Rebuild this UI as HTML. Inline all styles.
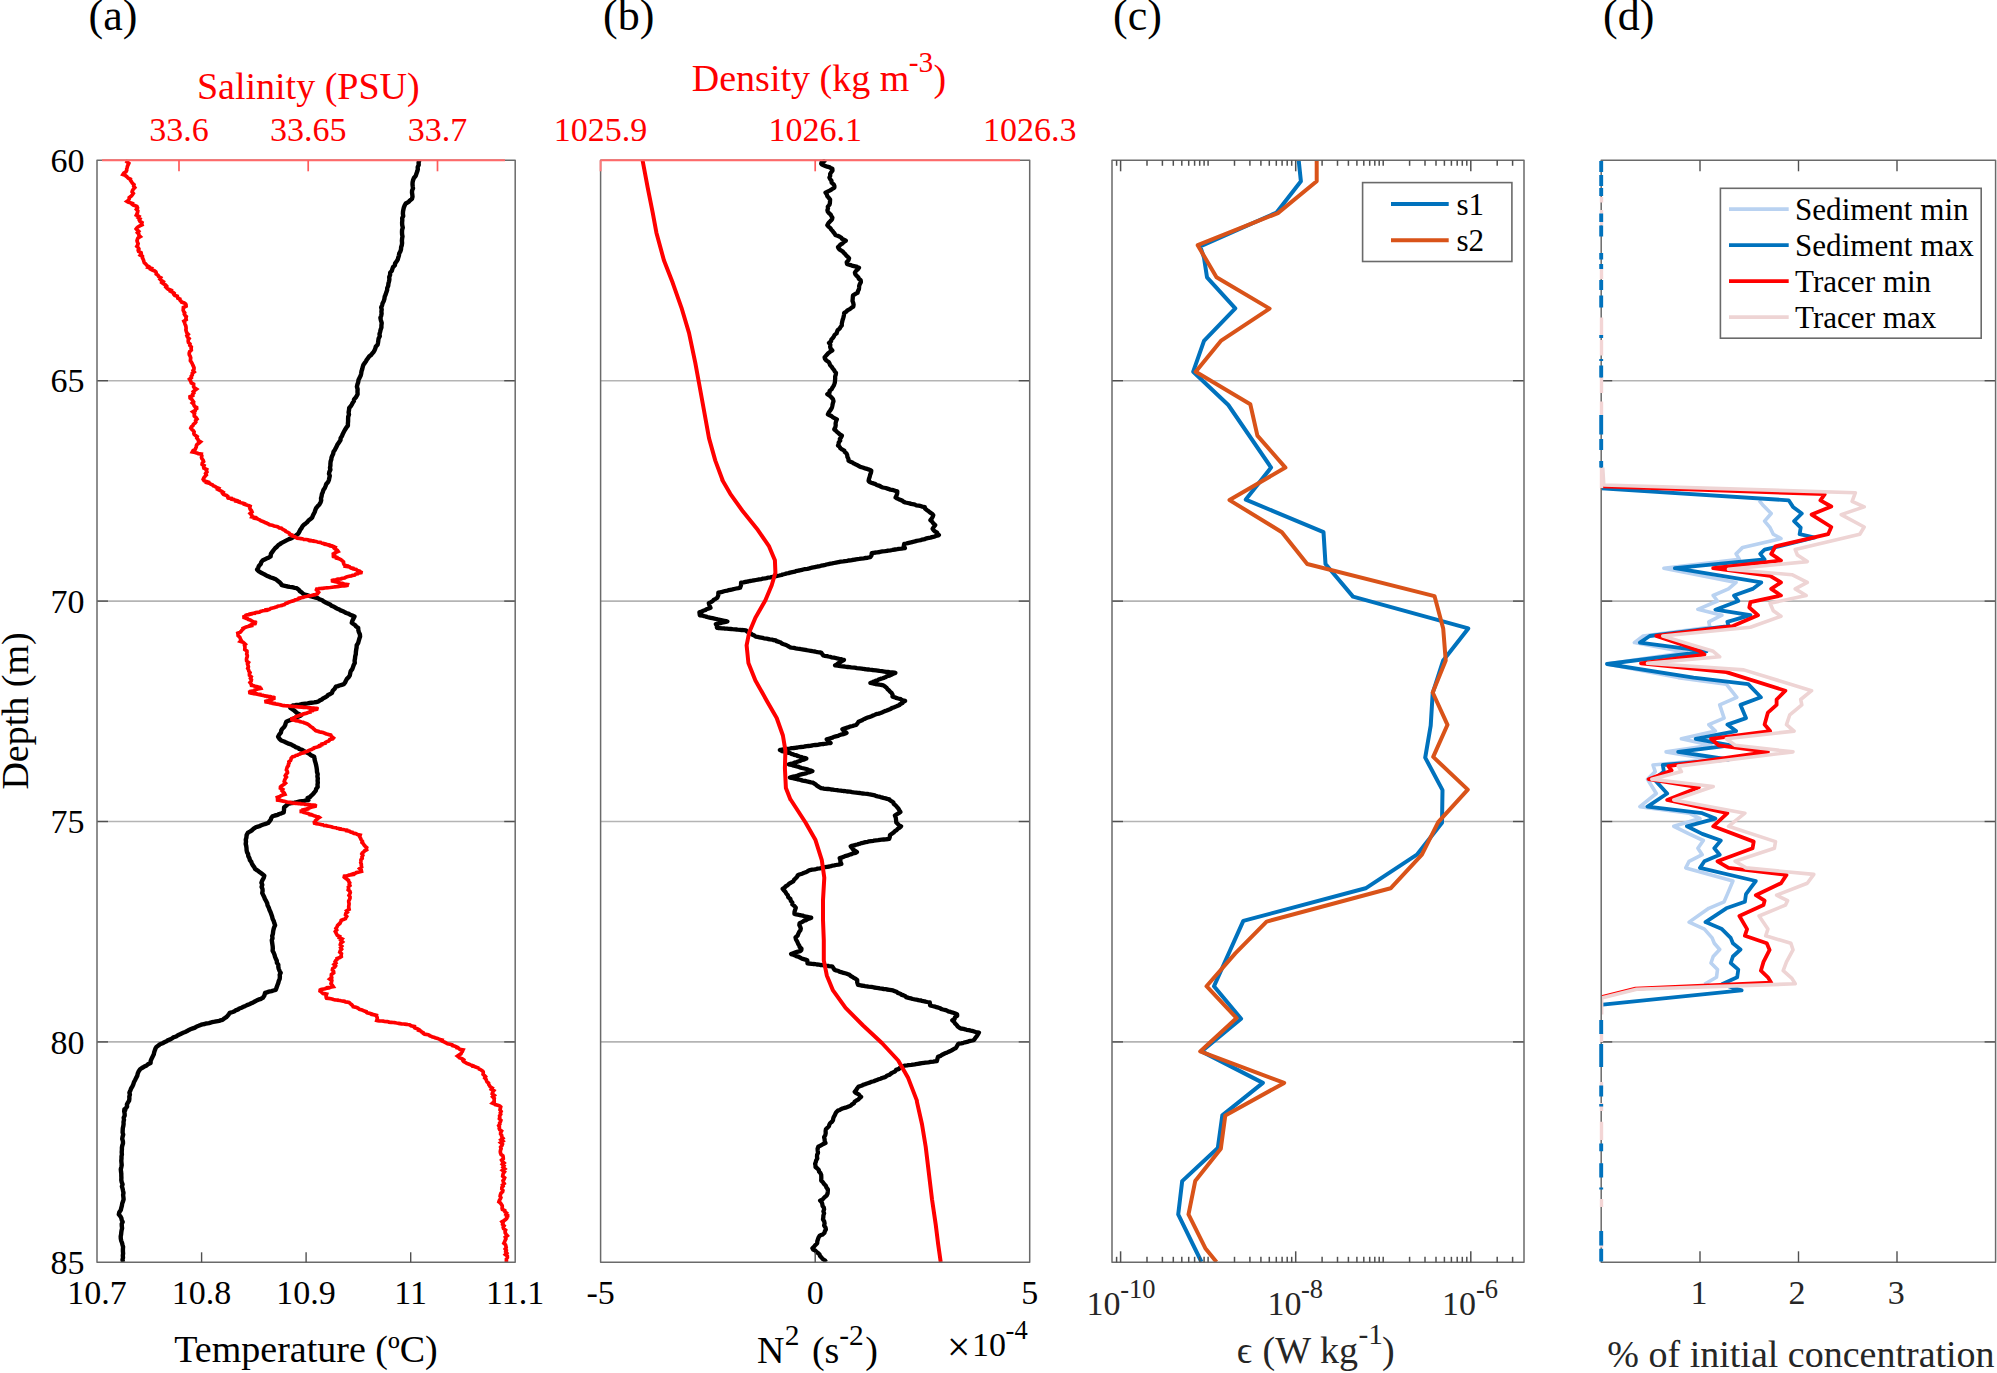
<!DOCTYPE html>
<html lang="en"><head><meta charset="utf-8"><title>Figure</title>
<style>html,body{margin:0;padding:0;background:#fff}svg{display:block}</style></head>
<body>
<svg width="1997" height="1373" viewBox="0 0 1997 1373" font-family="'Liberation Serif', serif">
<rect width="1997" height="1373" fill="#fff"/>
<line x1="97.0" y1="380.7" x2="515.2" y2="380.7" stroke="#b4b4b4" stroke-width="1.6"/>
<line x1="97.0" y1="380.7" x2="108.0" y2="380.7" stroke="#505050" stroke-width="1.4"/>
<line x1="504.20000000000005" y1="380.7" x2="515.2" y2="380.7" stroke="#505050" stroke-width="1.4"/>
<line x1="97.0" y1="601.1" x2="515.2" y2="601.1" stroke="#b4b4b4" stroke-width="1.6"/>
<line x1="97.0" y1="601.1" x2="108.0" y2="601.1" stroke="#505050" stroke-width="1.4"/>
<line x1="504.20000000000005" y1="601.1" x2="515.2" y2="601.1" stroke="#505050" stroke-width="1.4"/>
<line x1="97.0" y1="821.5" x2="515.2" y2="821.5" stroke="#b4b4b4" stroke-width="1.6"/>
<line x1="97.0" y1="821.5" x2="108.0" y2="821.5" stroke="#505050" stroke-width="1.4"/>
<line x1="504.20000000000005" y1="821.5" x2="515.2" y2="821.5" stroke="#505050" stroke-width="1.4"/>
<line x1="97.0" y1="1041.9" x2="515.2" y2="1041.9" stroke="#b4b4b4" stroke-width="1.6"/>
<line x1="97.0" y1="1041.9" x2="108.0" y2="1041.9" stroke="#505050" stroke-width="1.4"/>
<line x1="504.20000000000005" y1="1041.9" x2="515.2" y2="1041.9" stroke="#505050" stroke-width="1.4"/>
<line x1="600.6" y1="380.7" x2="1029.7" y2="380.7" stroke="#b4b4b4" stroke-width="1.6"/>
<line x1="1018.7" y1="380.7" x2="1029.7" y2="380.7" stroke="#505050" stroke-width="1.4"/>
<line x1="600.6" y1="601.1" x2="1029.7" y2="601.1" stroke="#b4b4b4" stroke-width="1.6"/>
<line x1="1018.7" y1="601.1" x2="1029.7" y2="601.1" stroke="#505050" stroke-width="1.4"/>
<line x1="600.6" y1="821.5" x2="1029.7" y2="821.5" stroke="#b4b4b4" stroke-width="1.6"/>
<line x1="1018.7" y1="821.5" x2="1029.7" y2="821.5" stroke="#505050" stroke-width="1.4"/>
<line x1="600.6" y1="1041.9" x2="1029.7" y2="1041.9" stroke="#b4b4b4" stroke-width="1.6"/>
<line x1="1018.7" y1="1041.9" x2="1029.7" y2="1041.9" stroke="#505050" stroke-width="1.4"/>
<line x1="1112.0" y1="380.7" x2="1524.0" y2="380.7" stroke="#b4b4b4" stroke-width="1.6"/>
<line x1="1112.0" y1="380.7" x2="1123.0" y2="380.7" stroke="#505050" stroke-width="1.4"/>
<line x1="1513.0" y1="380.7" x2="1524.0" y2="380.7" stroke="#505050" stroke-width="1.4"/>
<line x1="1112.0" y1="601.1" x2="1524.0" y2="601.1" stroke="#b4b4b4" stroke-width="1.6"/>
<line x1="1112.0" y1="601.1" x2="1123.0" y2="601.1" stroke="#505050" stroke-width="1.4"/>
<line x1="1513.0" y1="601.1" x2="1524.0" y2="601.1" stroke="#505050" stroke-width="1.4"/>
<line x1="1112.0" y1="821.5" x2="1524.0" y2="821.5" stroke="#b4b4b4" stroke-width="1.6"/>
<line x1="1112.0" y1="821.5" x2="1123.0" y2="821.5" stroke="#505050" stroke-width="1.4"/>
<line x1="1513.0" y1="821.5" x2="1524.0" y2="821.5" stroke="#505050" stroke-width="1.4"/>
<line x1="1112.0" y1="1041.9" x2="1524.0" y2="1041.9" stroke="#b4b4b4" stroke-width="1.6"/>
<line x1="1112.0" y1="1041.9" x2="1123.0" y2="1041.9" stroke="#505050" stroke-width="1.4"/>
<line x1="1513.0" y1="1041.9" x2="1524.0" y2="1041.9" stroke="#505050" stroke-width="1.4"/>
<line x1="1601.2" y1="380.7" x2="1995.6" y2="380.7" stroke="#b4b4b4" stroke-width="1.6"/>
<line x1="1601.2" y1="380.7" x2="1612.2" y2="380.7" stroke="#505050" stroke-width="1.4"/>
<line x1="1984.6" y1="380.7" x2="1995.6" y2="380.7" stroke="#505050" stroke-width="1.4"/>
<line x1="1601.2" y1="601.1" x2="1995.6" y2="601.1" stroke="#b4b4b4" stroke-width="1.6"/>
<line x1="1601.2" y1="601.1" x2="1612.2" y2="601.1" stroke="#505050" stroke-width="1.4"/>
<line x1="1984.6" y1="601.1" x2="1995.6" y2="601.1" stroke="#505050" stroke-width="1.4"/>
<line x1="1601.2" y1="821.5" x2="1995.6" y2="821.5" stroke="#b4b4b4" stroke-width="1.6"/>
<line x1="1601.2" y1="821.5" x2="1612.2" y2="821.5" stroke="#505050" stroke-width="1.4"/>
<line x1="1984.6" y1="821.5" x2="1995.6" y2="821.5" stroke="#505050" stroke-width="1.4"/>
<line x1="1601.2" y1="1041.9" x2="1995.6" y2="1041.9" stroke="#b4b4b4" stroke-width="1.6"/>
<line x1="1601.2" y1="1041.9" x2="1612.2" y2="1041.9" stroke="#505050" stroke-width="1.4"/>
<line x1="1984.6" y1="1041.9" x2="1995.6" y2="1041.9" stroke="#505050" stroke-width="1.4"/>
<defs><clipPath id="cpa"><rect x="97.0" y="159.3" width="418.20000000000005" height="1104.0"/></clipPath><clipPath id="cpb"><rect x="600.6" y="159.3" width="429.1" height="1104.0"/></clipPath><clipPath id="cpc"><rect x="1112.0" y="159.3" width="412.0" height="1104.0"/></clipPath><clipPath id="cpd"><rect x="1601.2" y="159.3" width="394.39999999999986" height="1104.0"/></clipPath></defs>
<g clip-path="url(#cpa)">
<polyline points="419.2,160.5 418.6,162.7 418.7,164.9 417.7,167.2 417.8,169.4 417.2,171.6 416.4,173.8 415.7,175.9 413.9,178.0 413.1,180.1 412.6,182.2 412.5,184.3 412.7,186.3 413.0,188.4 412.1,190.5 412.0,192.6 412.3,194.6 412.5,196.7 412.0,198.8 409.9,200.4 408.7,201.9 405.8,203.5 404.8,205.1 403.9,207.3 403.4,209.5 403.0,211.7 402.9,213.8 403.2,216.0 402.2,218.2 402.3,220.4 402.1,222.6 402.2,225.1 402.8,227.7 402.1,229.9 402.0,232.1 402.1,234.3 402.5,236.4 402.1,238.6 401.9,240.8 402.1,243.0 401.8,245.2 401.1,247.3 401.0,249.4 400.3,251.4 399.2,253.5 398.9,255.6 398.2,257.7 397.7,259.6 396.6,261.4 395.1,263.3 394.9,265.2 393.0,267.1 392.4,268.9 391.8,270.8 390.2,272.7 390.1,274.9 389.2,277.1 389.4,279.3 389.0,281.5 388.4,283.7 388.2,285.9 387.2,288.1 387.1,290.3 386.3,292.4 385.6,294.6 384.7,296.7 384.4,298.9 383.8,301.0 382.6,303.2 382.1,305.3 381.2,307.4 381.7,309.5 381.4,311.6 381.6,313.6 381.2,315.7 380.4,317.8 380.9,320.3 381.7,322.9 381.4,325.4 381.4,327.6 380.6,329.8 380.1,332.0 379.5,334.1 379.8,336.3 378.6,338.5 378.3,340.7 378.0,342.9 377.6,344.8 375.8,346.6 375.3,348.5 374.5,350.4 373.6,352.0 372.2,353.5 371.0,355.1 369.1,356.6 368.0,358.2 366.7,359.8 366.0,361.3 364.8,362.9 363.3,365.0 362.7,367.1 362.2,369.2 361.5,371.3 361.2,373.4 360.7,375.5 359.6,377.7 358.5,380.0 358.2,382.2 357.4,384.5 356.9,386.7 357.6,389.2 357.5,391.7 357.6,394.2 356.7,395.9 355.7,397.6 354.0,399.4 353.9,401.1 352.7,402.8 351.8,404.6 350.7,406.3 349.2,408.0 349.0,410.2 348.6,412.4 349.0,414.6 348.2,416.8 348.1,419.0 348.1,421.2 347.9,423.4 347.9,425.6 346.3,427.7 345.0,429.7 343.9,431.8 342.8,433.9 342.0,436.0 340.6,438.1 340.5,440.1 339.2,442.2 337.6,444.3 336.7,446.2 335.8,448.1 334.8,450.0 333.5,451.8 333.2,453.7 332.3,455.6 331.5,457.6 331.3,459.6 330.6,461.6 330.4,463.6 330.4,465.6 330.0,467.7 330.4,469.7 329.4,471.7 329.0,473.7 329.8,475.7 329.3,477.9 328.9,480.0 328.1,482.0 326.3,484.0 325.6,486.0 324.8,488.0 323.4,490.0 322.8,492.1 321.9,494.2 321.6,496.2 321.0,498.3 321.2,500.4 320.5,502.5 319.4,504.4 317.6,506.3 316.1,508.2 315.3,510.1 314.7,512.0 313.7,513.9 312.9,515.7 312.1,517.6 310.5,519.0 308.5,520.5 307.4,522.0 305.7,523.4 303.9,524.8 302.5,526.3 301.5,528.1 300.2,529.8 299.4,531.6 298.5,533.3 296.6,535.1 295.3,536.1 293.5,537.1 291.6,538.1 289.0,539.1 287.0,540.1 285.1,541.1 283.2,542.1 281.3,543.1 279.9,544.1 278.3,545.1 276.9,546.7 275.1,548.2 273.9,549.8 272.7,551.4 270.9,553.9 270.6,556.4 269.0,557.4 267.0,558.3 265.1,559.2 262.9,560.2 261.3,562.1 260.7,564.0 258.9,565.9 258.2,567.8 257.1,569.7 258.6,571.1 260.7,572.5 263.4,573.9 265.2,574.8 266.7,575.7 268.7,576.6 270.8,577.5 273.7,578.4 275.7,579.3 277.0,580.2 279.2,581.9 280.8,583.5 281.9,585.2 283.7,585.6 286.0,586.1 287.7,586.5 289.7,586.9 292.9,587.3 294.7,587.8 296.7,588.2 298.8,589.7 299.8,591.1 301.8,592.5 303.4,594.0 304.8,594.6 307.0,595.2 309.2,595.8 311.3,596.4 313.8,597.0 315.6,597.6 317.9,598.2 319.5,599.3 322.3,600.3 323.7,601.4 325.7,602.5 327.8,603.5 330.1,604.6 331.5,605.7 334.0,606.7 335.5,607.8 337.4,608.7 339.3,609.5 340.6,610.4 343.0,611.3 344.6,612.1 346.2,613.0 349.0,613.9 350.2,614.8 352.4,615.6 354.5,616.5 353.5,618.6 352.4,620.7 351.8,622.8 353.4,624.0 355.3,625.3 356.1,626.5 358.2,627.8 358.3,630.0 358.9,632.2 359.9,634.4 360.1,636.6 359.3,638.8 358.7,641.0 358.1,643.1 356.7,645.3 356.6,647.5 356.2,649.7 355.9,651.9 355.8,654.1 355.2,656.3 355.0,658.5 354.6,660.7 354.8,662.9 353.7,665.0 353.0,667.1 352.3,669.1 350.7,671.2 350.2,673.3 349.8,675.4 348.7,677.2 346.9,678.9 345.9,680.7 345.2,682.4 343.8,684.2 341.8,684.8 339.4,685.5 337.9,686.1 335.8,686.7 334.7,688.8 332.7,690.8 332.0,692.9 330.3,694.0 328.0,695.1 327.0,696.2 325.4,697.3 322.9,698.4 321.9,699.5 319.6,700.6 318.0,701.7 316.5,702.0 314.2,702.4 311.4,702.7 309.6,703.0 307.6,703.4 305.3,703.7 303.1,704.0 301.1,704.3 299.4,704.6 296.6,704.9 295.1,705.2 292.8,705.5 290.4,708.0 292.3,709.2 294.2,710.5 295.7,711.8 296.8,713.0 299.4,714.2 300.8,715.5 299.0,716.4 296.1,717.3 294.3,718.2 292.1,719.0 290.9,719.9 288.4,720.8 286.3,721.7 285.6,723.5 285.2,725.2 284.1,727.0 282.4,728.7 281.3,730.5 280.9,732.6 279.2,734.7 278.1,736.8 279.3,738.6 281.2,740.5 284.1,741.5 286.0,742.4 287.8,743.3 290.9,744.3 292.4,745.2 294.5,746.2 295.6,747.1 298.3,748.0 299.4,749.0 302.1,749.9 303.6,750.9 305.3,751.8 307.3,752.8 309.4,753.8 310.5,754.8 312.1,755.8 314.2,756.8 314.5,759.0 315.0,761.2 315.7,763.4 316.2,765.6 316.6,767.7 316.9,769.9 317.0,772.0 317.7,774.2 317.4,776.3 317.8,778.5 317.6,780.6 317.8,782.7 317.5,784.8 317.7,786.9 316.2,788.8 315.8,790.6 314.3,792.5 312.7,794.4 311.3,795.6 310.1,796.9 307.6,798.1 308.4,800.0 305.9,800.4 304.0,800.8 302.3,801.1 299.8,801.5 298.0,801.9 296.1,802.3 294.5,802.7 291.7,803.0 290.3,803.4 288.1,803.8 286.2,805.6 284.1,807.5 284.0,810.0 283.7,812.5 281.5,813.3 279.2,814.0 277.7,814.8 274.9,815.5 272.5,816.3 271.2,818.0 270.8,819.6 269.6,821.3 268.1,823.0 265.6,823.8 263.4,824.5 261.4,825.3 259.5,826.1 257.1,826.8 255.3,827.6 253.3,828.9 252.2,830.1 250.3,831.4 248.0,832.6 246.6,835.1 246.4,837.6 245.8,839.7 246.0,841.8 245.7,843.9 246.2,845.9 246.5,848.0 246.6,850.1 247.0,852.1 248.1,854.1 248.3,856.1 249.4,858.1 249.9,860.1 251.3,861.9 251.9,863.6 252.9,865.4 254.2,867.1 255.1,868.9 257.2,870.3 258.9,871.6 260.9,873.0 262.5,874.3 264.3,875.7 263.7,878.0 262.3,880.4 261.4,882.7 262.3,884.8 261.6,886.9 262.5,889.0 262.6,891.0 262.2,893.1 263.3,895.2 264.3,897.2 265.0,899.2 266.2,901.2 267.2,903.2 267.5,905.2 268.7,907.5 269.4,909.7 270.5,912.0 271.3,914.2 272.1,916.5 272.6,918.7 273.7,920.9 274.3,923.1 275.1,925.3 274.1,927.4 273.5,929.6 273.1,931.7 272.9,933.9 272.2,936.0 272.5,938.2 271.8,940.3 272.1,942.4 272.4,944.5 272.7,946.5 272.8,948.6 272.6,950.7 273.7,952.8 274.5,954.8 275.0,956.8 275.8,958.8 276.8,960.8 276.9,962.8 278.3,964.8 278.3,966.8 278.7,968.8 279.5,970.8 280.7,972.8 279.7,974.8 279.9,976.8 279.7,978.9 278.8,980.9 278.3,982.9 277.4,985.2 276.6,987.6 275.7,989.9 273.5,990.5 271.6,991.1 268.9,991.7 267.0,992.3 265.1,992.9 264.4,995.4 262.7,997.9 261.0,998.8 258.4,999.7 256.5,1000.6 254.8,1001.5 253.2,1002.4 251.3,1003.3 249.3,1004.2 247.0,1005.1 245.4,1005.9 243.4,1006.8 241.5,1007.7 239.3,1008.5 238.3,1009.4 235.6,1010.3 234.6,1011.2 232.7,1012.0 229.8,1012.9 228.8,1014.3 227.7,1015.7 226.3,1017.1 224.2,1018.5 222.5,1019.9 220.4,1020.4 219.2,1020.8 216.3,1021.3 214.7,1021.7 212.2,1022.2 210.6,1022.6 209.0,1023.1 206.0,1023.5 204.7,1024.0 202.4,1024.4 200.7,1024.9 198.6,1025.8 196.2,1026.7 195.1,1027.6 192.8,1028.4 190.4,1029.3 188.5,1030.2 187.1,1031.1 185.2,1032.0 183.1,1032.8 181.1,1033.7 179.4,1034.6 177.5,1035.5 176.1,1036.5 173.3,1037.4 172.1,1038.4 170.3,1039.4 167.6,1040.3 166.5,1041.3 164.3,1042.3 162.6,1043.2 160.0,1044.2 158.4,1045.5 156.7,1046.7 155.7,1048.0 154.9,1050.1 154.2,1052.2 153.8,1054.3 152.7,1056.5 151.6,1058.7 150.7,1060.8 150.6,1063.0 147.9,1064.3 146.6,1065.5 143.9,1066.8 141.9,1068.0 140.1,1069.3 138.6,1071.5 137.7,1073.7 137.2,1075.9 136.0,1078.1 135.0,1080.2 133.9,1082.3 133.3,1084.3 132.4,1086.4 131.1,1088.5 130.3,1090.6 129.4,1092.6 129.9,1094.6 129.3,1096.6 129.4,1098.6 129.1,1100.6 127.9,1102.6 126.9,1104.6 127.1,1106.6 125.5,1108.6 125.1,1110.6 124.4,1109.2 124.2,1111.3 124.6,1113.4 124.7,1115.5 123.7,1117.7 124.0,1119.8 123.5,1121.9 123.6,1124.0 123.3,1126.1 122.8,1128.2 122.7,1130.4 122.6,1132.5 123.2,1134.6 122.6,1136.7 122.2,1138.9 122.9,1141.1 123.0,1143.3 122.3,1145.5 121.9,1147.7 121.9,1149.9 121.7,1152.1 121.9,1154.3 121.5,1156.4 121.5,1158.6 121.3,1160.7 121.5,1162.9 121.7,1165.0 121.3,1167.2 120.8,1169.3 121.0,1171.4 121.3,1173.6 121.3,1175.7 121.4,1177.9 121.3,1180.0 121.7,1182.2 122.6,1184.3 121.9,1186.4 122.6,1188.6 123.0,1190.7 123.5,1192.9 123.1,1195.0 123.4,1197.2 123.6,1199.3 123.0,1201.4 122.2,1203.5 121.9,1205.6 121.3,1207.8 120.8,1210.0 119.3,1212.2 118.8,1214.4 120.4,1216.3 121.4,1218.2 121.7,1220.0 122.7,1221.9 121.7,1224.0 121.8,1226.1 122.1,1228.2 121.6,1230.2 121.3,1232.3 121.1,1234.4 120.7,1236.5 120.8,1238.6 121.2,1240.7 122.0,1242.7 122.5,1244.8 123.1,1246.9 122.9,1249.1 122.9,1251.2 123.1,1253.4 122.8,1255.5 123.0,1257.7 122.5,1259.8 123.1,1262.0" fill="none" stroke="#000" stroke-width="4.4" stroke-linejoin="round" stroke-linecap="butt" />
<polyline points="128.2,160.5 127.1,161.9 128.8,163.3 128.2,164.7 127.5,166.1 127.2,167.5 126.7,168.9 126.7,170.3 126.0,171.7 123.8,173.1 122.9,174.5 125.2,175.4 126.6,176.4 127.4,177.3 128.3,178.2 130.4,179.2 130.3,180.1 131.4,181.6 132.3,183.1 134.0,184.6 133.7,186.1 134.8,187.6 133.4,189.1 132.5,190.5 132.1,191.9 133.3,193.4 132.3,194.9 131.0,196.3 129.2,197.6 129.2,198.9 128.6,200.1 126.9,201.4 128.0,202.1 130.3,202.8 132.4,203.5 132.2,204.3 133.2,205.0 135.3,205.7 136.9,206.4 137.5,207.8 136.4,209.3 137.8,210.8 137.6,212.2 137.1,213.7 136.4,215.1 138.9,216.4 138.1,217.6 140.0,218.9 139.3,220.1 140.0,221.4 142.0,222.6 141.6,223.9 142.0,224.9 139.8,225.9 138.0,226.9 136.9,227.9 136.2,228.9 137.4,230.2 138.7,231.4 137.5,232.7 138.7,233.9 138.9,235.2 140.3,236.6 138.0,238.0 137.4,239.4 137.0,240.8 137.4,242.2 138.1,243.6 137.7,245.0 136.9,246.4 138.3,247.7 138.9,248.9 138.2,250.2 138.6,251.4 141.1,252.7 141.3,253.9 140.3,255.2 142.4,256.4 142.4,257.7 143.0,258.9 143.5,260.2 143.9,261.5 144.3,262.7 145.7,264.0 146.6,265.2 148.7,266.5 148.1,267.4 151.3,268.3 150.8,269.2 152.3,270.0 154.7,270.9 155.9,271.8 156.2,272.7 156.2,274.0 158.0,275.2 158.6,276.5 160.7,277.7 159.9,279.0 161.1,280.2 163.1,281.5 162.0,282.7 163.7,284.0 165.6,285.0 166.6,286.1 165.9,287.1 166.9,288.1 168.0,289.1 171.0,290.2 170.5,291.2 172.7,292.2 174.1,293.2 173.8,294.3 174.7,295.3 177.3,296.2 177.6,297.2 177.8,298.2 179.9,299.1 180.0,300.1 181.0,301.0 181.4,301.9 184.2,302.9 185.6,303.9 186.0,304.8 186.1,306.2 183.4,307.5 183.3,308.9 183.2,310.2 183.8,311.6 184.7,312.9 184.3,314.1 185.0,315.4 186.3,316.6 185.9,318.2 186.2,319.7 183.9,321.2 184.7,322.8 185.0,324.2 185.7,325.7 186.0,327.1 186.1,328.6 185.9,330.0 186.3,331.5 186.9,332.9 188.2,334.3 186.9,335.7 187.5,337.1 189.1,338.5 188.3,339.8 188.2,341.2 188.5,342.6 190.0,344.0 189.8,345.4 191.3,347.0 191.1,348.5 191.3,350.1 189.7,351.6 189.2,353.2 189.3,354.8 190.2,356.3 190.7,357.9 190.5,359.3 190.4,360.7 191.3,362.1 192.2,363.5 192.7,364.8 193.3,366.2 194.0,367.6 194.0,369.0 193.1,370.4 194.2,371.9 192.3,373.3 192.3,374.8 191.2,376.3 191.4,377.7 189.5,379.2 190.3,380.4 190.9,381.7 191.3,382.9 193.6,384.2 193.6,385.4 193.6,386.7 194.4,387.9 196.4,389.2 194.6,390.5 193.2,391.7 193.8,393.0 192.7,394.2 192.8,395.5 190.0,396.7 190.1,398.0 191.7,399.2 192.6,400.5 193.5,401.8 192.3,403.0 193.7,404.2 194.0,405.5 195.0,406.8 197.6,408.0 195.6,409.3 195.3,410.5 192.9,411.8 194.6,413.2 194.2,414.7 194.3,416.1 196.0,417.6 197.0,419.1 195.6,420.5 195.9,421.8 195.1,423.0 193.4,424.3 192.9,425.6 191.5,426.8 190.8,428.1 191.7,429.3 193.2,430.6 194.1,431.8 193.8,433.1 194.1,434.3 195.6,435.6 197.2,436.8 196.8,438.1 197.9,439.3 198.4,440.6 200.5,441.8 199.1,443.1 197.1,444.3 196.4,445.6 196.3,446.9 195.8,448.1 195.2,449.4 193.1,450.6 192.4,451.9 195.0,452.3 195.8,452.7 196.9,453.1 198.3,453.6 201.2,454.0 201.1,454.4 201.8,455.8 201.5,457.3 201.9,458.7 203.1,460.1 203.6,461.5 202.3,463.0 202.1,464.4 204.1,465.6 203.6,466.9 203.9,468.1 206.7,469.4 206.3,470.6 206.9,472.0 205.6,473.5 206.3,474.9 205.0,476.4 203.9,477.8 203.2,479.3 204.1,480.7 205.6,481.3 207.7,482.0 207.2,482.7 209.9,483.4 210.7,484.2 212.5,484.9 213.1,485.6 214.8,486.3 216.5,487.3 218.6,488.3 217.8,489.4 219.8,490.4 221.7,491.4 223.2,492.4 222.6,493.4 223.5,494.4 226.5,495.5 227.8,496.5 227.8,497.5 228.1,498.0 231.4,498.5 231.5,499.1 234.0,499.6 234.7,500.1 236.5,500.6 236.3,501.1 239.1,501.6 239.1,502.2 240.9,502.7 243.2,503.2 244.5,503.7 244.4,504.2 245.8,504.7 247.5,505.3 249.1,505.8 250.1,506.3 249.7,507.7 250.2,509.2 251.4,510.6 252.0,512.0 250.2,513.4 251.6,514.9 252.2,516.3 251.9,516.9 255.1,517.5 254.8,518.2 257.3,518.8 258.5,519.4 260.0,520.0 260.7,520.7 262.3,521.3 264.0,521.9 265.0,522.5 266.9,523.2 267.8,523.8 269.1,524.3 269.5,524.7 272.3,525.2 273.3,525.6 274.1,526.1 276.7,526.5 278.1,527.0 278.7,527.4 279.4,527.9 281.5,528.3 282.0,528.8 283.3,529.7 285.3,530.6 285.7,531.4 287.8,532.3 289.2,533.2 289.4,534.1 292.0,535.0 292.0,535.8 294.8,536.7 296.1,537.6 296.9,537.9 297.3,538.2 299.7,538.4 300.8,538.7 303.5,539.0 303.0,539.3 306.0,539.5 307.8,539.8 308.5,540.1 310.1,540.4 310.1,540.7 313.3,540.9 313.5,541.2 316.0,541.5 317.3,541.8 317.0,542.0 319.8,542.3 321.5,542.6 320.9,543.0 322.9,543.4 325.3,543.9 325.3,544.3 328.4,544.7 328.3,545.1 330.9,545.6 330.8,546.0 333.0,546.4 335.1,547.4 334.5,548.4 335.8,549.4 337.4,550.4 338.1,551.4 336.1,552.2 335.1,552.9 333.7,553.7 334.1,554.4 332.2,555.2 334.1,555.9 333.9,556.6 336.7,557.3 336.6,558.1 339.0,558.8 340.7,559.5 341.5,560.2 343.5,561.9 343.6,563.5 344.5,565.2 346.5,565.7 346.1,566.3 349.5,566.8 350.0,567.4 350.8,567.9 353.1,568.4 353.2,569.0 356.2,569.5 356.6,570.0 357.4,570.6 359.7,571.1 360.3,571.7 361.1,572.2 361.0,572.7 358.1,573.1 358.5,573.6 355.8,574.0 355.4,574.5 354.8,575.0 352.5,575.4 351.4,575.9 349.2,576.3 347.2,576.8 345.9,577.2 344.8,577.7 344.5,578.0 342.7,578.3 341.5,578.6 341.0,578.9 337.9,579.2 336.7,579.5 336.3,579.8 333.5,580.1 332.0,580.4 331.5,580.7 332.4,581.1 334.4,581.5 335.5,581.8 337.8,582.2 339.3,582.6 339.9,583.0 342.3,583.3 343.4,583.7 344.1,584.1 347.4,584.5 347.3,584.8 348.5,585.2 347.0,585.4 346.8,585.5 345.9,585.7 344.3,585.9 342.0,586.0 340.3,586.2 338.3,586.4 338.3,586.5 336.7,586.7 334.8,586.9 334.0,587.0 332.2,587.2 331.9,587.3 330.0,587.5 327.5,587.7 327.5,587.8 324.2,588.0 323.9,588.2 322.2,588.3 320.3,588.5 318.5,588.7 318.8,588.8 315.6,589.0 317.3,590.7 318.6,592.3 317.2,594.0 315.9,594.3 315.3,594.6 313.6,594.9 312.5,595.2 311.4,595.5 308.5,595.9 307.4,596.2 305.9,596.5 303.8,596.8 304.3,597.1 302.6,597.4 301.0,597.7 298.0,598.3 298.5,598.8 296.9,599.4 294.9,600.0 294.2,600.6 292.2,601.1 290.3,601.7 288.6,602.3 287.5,602.9 285.7,603.4 285.0,604.0 284.5,604.5 283.0,604.9 281.9,605.4 280.2,605.8 277.7,606.2 277.0,606.7 275.3,607.1 274.6,607.6 272.6,608.0 270.6,608.5 270.0,608.9 269.3,609.4 266.2,609.8 266.3,610.3 262.9,610.7 262.0,611.0 260.5,611.4 260.2,611.7 259.3,612.1 257.4,612.4 255.0,612.8 254.8,613.2 252.1,613.5 250.5,613.9 250.6,614.2 248.6,614.6 247.3,614.9 245.8,615.3 245.2,616.3 242.7,617.3 245.0,617.8 246.0,618.4 247.8,618.9 248.2,619.5 250.2,620.0 251.2,620.6 252.0,621.1 253.2,621.7 255.5,622.2 255.6,622.8 256.2,623.4 253.0,624.0 251.4,624.7 250.2,625.3 250.7,625.9 248.0,626.5 246.1,627.1 244.5,627.8 243.1,628.4 243.2,629.0 242.1,630.0 241.3,631.0 240.3,632.1 237.8,633.1 238.0,634.1 238.1,635.6 239.8,637.2 240.4,638.8 241.2,640.3 240.3,641.3 243.2,642.3 244.3,643.3 245.4,644.3 244.5,645.3 244.9,646.7 244.9,648.2 244.8,649.6 246.9,651.1 247.0,652.5 246.7,654.0 247.3,655.4 247.2,656.8 246.6,658.3 246.5,659.7 246.7,661.1 248.5,662.5 247.5,664.0 248.0,665.4 248.4,666.8 247.7,668.3 248.5,669.7 248.8,671.1 250.0,672.5 249.4,674.0 249.5,675.4 251.2,676.8 250.4,678.3 251.4,679.7 251.1,681.1 250.0,682.5 251.2,684.0 251.5,685.4 253.7,685.8 254.1,686.1 256.4,686.5 257.4,686.8 258.1,687.2 261.0,687.5 260.7,687.9 260.9,688.4 257.9,688.9 256.1,689.4 255.0,689.9 254.9,690.4 253.9,690.9 250.2,691.4 249.8,691.9 248.4,692.4 250.5,692.7 250.5,693.0 252.7,693.3 253.7,693.6 256.3,693.8 256.4,694.1 259.4,694.4 259.3,694.7 260.5,695.0 263.1,695.3 264.0,695.6 264.6,695.9 267.2,696.2 267.3,696.5 270.4,696.7 271.6,697.0 273.2,697.3 274.3,697.6 275.1,697.9 273.7,698.4 272.3,699.0 272.0,699.5 268.7,700.1 269.2,700.6 265.7,701.2 264.7,701.7 266.3,702.0 269.2,702.3 269.8,702.7 271.0,703.0 273.6,703.3 273.5,703.6 275.5,703.9 277.1,704.2 279.1,704.5 280.6,704.9 281.8,705.2 282.6,705.5 283.9,705.6 284.9,705.7 287.9,705.9 288.9,706.0 290.5,706.1 290.6,706.2 292.6,706.3 294.8,706.5 295.7,706.6 296.1,706.7 298.3,706.8 300.6,706.9 300.5,707.1 301.8,707.2 303.5,707.3 305.8,707.4 307.6,707.5 307.4,707.7 308.8,707.8 310.4,707.9 312.0,708.0 313.8,708.1 314.4,708.3 316.2,708.4 317.3,708.5 317.8,709.0 315.9,709.5 313.1,710.0 313.8,710.5 310.5,711.0 309.8,711.6 309.9,712.1 308.2,712.6 306.7,713.1 304.7,713.6 302.8,714.1 302.5,714.6 300.0,715.1 298.9,715.6 298.0,716.1 295.9,716.7 295.4,717.2 295.0,717.7 293.5,718.2 291.7,718.7 290.7,719.2 291.7,719.5 292.3,719.9 294.8,720.2 295.7,720.6 297.8,720.9 299.6,721.3 299.8,721.6 301.6,722.0 303.3,722.3 303.9,722.7 304.9,723.0 307.3,723.9 308.9,724.9 309.9,725.8 311.0,726.8 312.6,727.7 313.4,728.6 314.6,729.6 315.4,730.5 316.4,730.9 318.5,731.3 318.7,731.7 320.8,732.1 323.0,732.5 324.2,733.0 325.3,733.4 325.8,733.8 327.6,734.2 329.0,734.6 330.8,735.0 331.5,736.5 333.4,738.0 332.7,738.8 329.8,739.5 329.6,740.2 328.6,741.0 326.5,741.8 325.5,742.5 325.3,743.2 321.9,744.0 321.8,744.8 319.7,745.5 319.8,746.1 318.8,746.6 316.5,747.2 314.1,747.8 313.9,748.4 312.4,748.9 311.5,749.5 309.6,750.1 308.5,750.7 307.6,751.2 305.5,751.8 303.9,752.4 303.7,752.9 300.6,753.5 300.3,754.0 298.3,754.6 297.7,755.1 294.8,755.7 295.4,756.2 292.6,756.8 291.2,758.1 291.0,759.3 290.5,760.6 288.9,761.8 289.1,763.1 288.4,764.3 288.4,765.6 287.3,767.0 286.8,768.5 286.4,769.9 287.3,771.3 287.5,772.7 286.2,774.2 285.3,775.6 286.4,777.1 285.3,778.6 284.6,780.1 284.2,781.6 285.5,783.1 284.5,784.0 283.0,785.0 281.5,786.0 280.5,786.9 280.4,788.1 282.7,789.4 282.0,790.6 283.3,791.9 284.3,793.1 284.9,794.4 282.6,795.1 280.7,795.9 279.8,796.6 277.3,797.4 277.5,798.1 277.6,800.0 280.2,800.3 280.4,800.6 282.1,800.9 283.3,801.2 285.2,801.5 286.2,801.8 287.3,802.1 290.4,802.4 290.9,802.7 292.3,803.0 293.8,803.1 295.7,803.3 296.9,803.4 298.8,803.6 300.3,803.7 301.0,803.9 303.7,804.0 304.9,804.2 304.5,804.3 307.7,804.5 309.2,804.6 310.4,804.8 310.3,804.9 313.3,805.1 314.2,805.2 314.2,805.4 315.6,805.5 316.4,806.0 314.4,806.5 312.1,807.0 310.4,807.4 309.1,807.9 308.0,808.4 307.9,808.9 305.5,809.4 303.8,809.8 304.1,810.3 302.5,810.8 299.7,811.3 302.7,811.7 303.4,812.2 305.2,812.6 306.2,813.1 308.1,813.5 309.2,814.0 310.6,814.4 310.5,814.8 313.0,815.3 313.9,815.7 315.7,816.2 316.4,816.6 318.7,817.1 319.3,817.5 317.7,818.6 316.6,819.7 315.4,820.8 315.2,821.9 313.2,823.0 315.6,823.3 316.2,823.6 318.5,824.0 319.9,824.3 321.4,824.6 323.6,824.9 323.1,825.3 326.4,825.6 327.0,825.9 328.6,826.2 330.3,826.5 332.1,826.9 332.5,827.2 334.0,827.5 336.7,827.8 336.1,828.2 338.8,828.5 340.2,828.8 340.2,829.1 343.0,829.5 344.6,829.8 346.6,830.1 346.6,830.6 349.4,831.1 349.7,831.6 351.0,832.1 353.4,832.6 352.7,833.1 355.7,833.6 356.8,834.1 357.6,834.6 360.1,835.1 359.6,836.6 360.5,838.2 361.2,839.8 362.4,841.3 362.0,842.5 363.3,843.8 364.1,845.0 365.3,846.3 366.7,847.5 366.3,848.8 366.6,849.8 364.6,850.8 363.8,851.9 362.3,852.9 361.8,853.9 362.8,855.4 362.0,856.8 362.2,858.3 361.0,859.7 360.9,861.2 360.7,862.6 361.3,864.1 361.3,865.6 361.6,867.0 359.7,868.5 361.2,869.9 361.5,871.4 359.1,872.0 356.4,872.6 355.4,873.3 353.2,873.9 352.2,874.2 352.4,874.5 350.3,874.8 349.0,875.1 347.9,875.5 346.8,875.8 344.7,876.1 343.3,876.4 344.6,877.4 346.0,878.4 347.0,879.4 348.5,880.4 348.6,881.4 349.7,882.8 349.2,884.2 349.9,885.6 348.4,887.0 348.6,888.4 348.2,889.8 349.9,891.2 350.3,892.6 349.7,894.0 349.0,895.4 350.0,896.8 350.0,898.2 349.4,899.6 348.7,901.0 348.8,902.4 349.1,903.8 348.9,905.2 348.7,906.6 348.8,908.0 349.1,909.4 346.6,910.8 347.4,912.1 345.8,913.5 345.5,914.9 346.7,916.3 345.8,917.7 345.5,918.6 343.3,919.5 341.2,920.4 341.0,921.3 340.4,922.2 340.1,923.1 339.1,924.0 337.5,925.5 337.0,927.0 335.9,928.5 336.7,930.0 335.3,931.5 336.0,932.8 336.5,934.0 337.3,935.3 339.7,936.5 339.3,937.8 342.0,939.0 340.9,940.3 342.5,941.8 340.7,943.3 340.3,944.7 341.8,946.2 340.6,947.7 341.6,949.2 340.3,950.7 339.8,952.2 341.4,953.6 341.1,955.1 341.3,956.6 339.8,957.5 337.0,958.5 337.0,959.4 336.0,960.3 335.1,961.7 335.9,963.1 334.1,964.5 335.5,965.9 334.6,967.2 332.7,968.6 332.4,970.0 333.6,971.4 333.7,972.8 331.4,974.4 331.3,976.0 331.7,977.5 329.7,979.1 331.8,980.6 331.5,982.1 331.0,983.6 332.2,985.1 333.2,986.6 331.5,986.9 330.7,987.3 328.1,987.6 328.2,988.0 325.9,988.3 325.2,988.7 323.8,989.0 321.9,989.4 320.5,989.7 320.0,990.1 319.0,990.4 320.2,991.1 321.2,991.9 322.0,992.6 323.0,993.4 326.6,994.1 326.0,996.0 326.3,997.9 326.5,998.2 328.5,998.4 330.8,998.7 331.9,999.0 332.7,999.2 333.5,999.5 335.1,999.8 337.6,1000.0 337.8,1000.3 339.9,1000.5 341.1,1000.8 343.2,1001.1 344.4,1001.3 344.6,1001.6 345.4,1001.9 347.4,1002.1 349.1,1002.4 350.3,1003.6 351.7,1004.7 352.7,1005.9 352.1,1006.5 355.3,1007.1 356.6,1007.6 358.1,1008.2 358.8,1008.8 359.4,1009.4 362.1,1010.0 363.4,1010.6 364.4,1011.1 366.3,1011.7 366.4,1012.3 367.1,1012.9 369.7,1013.4 371.7,1013.9 371.8,1014.4 374.5,1014.9 376.4,1015.4 376.3,1015.9 377.1,1017.4 377.3,1018.9 376.8,1020.4 377.6,1020.6 379.2,1020.8 381.7,1021.0 383.2,1021.1 383.8,1021.3 384.4,1021.5 387.5,1021.7 388.8,1021.9 389.0,1022.1 391.2,1022.3 393.3,1022.5 394.7,1022.7 395.3,1022.8 396.6,1023.0 398.2,1023.2 398.7,1023.4 400.1,1023.6 401.5,1023.8 404.1,1024.0 404.8,1024.2 406.6,1024.3 407.7,1024.5 409.3,1024.7 409.9,1024.9 410.9,1025.7 414.3,1026.5 414.2,1027.2 414.8,1028.0 417.3,1028.8 418.9,1029.6 418.7,1030.3 420.9,1031.1 421.6,1031.9 423.2,1032.7 423.3,1033.4 424.6,1034.2 428.2,1034.7 429.3,1035.3 429.8,1035.8 431.3,1036.3 432.0,1036.8 434.5,1037.4 435.1,1037.9 437.6,1038.4 438.6,1038.9 440.1,1039.5 441.8,1040.0 441.5,1040.6 442.3,1041.2 444.0,1041.9 445.3,1042.5 446.4,1043.1 447.6,1043.7 450.1,1044.3 452.2,1044.9 452.6,1045.6 455.0,1046.2 456.3,1046.8 455.7,1047.4 458.2,1048.0 459.1,1048.6 459.8,1049.3 463.0,1049.9 462.7,1050.5 462.3,1051.6 461.4,1052.7 461.0,1053.8 459.3,1054.9 457.6,1056.0 458.8,1056.9 459.4,1057.8 462.4,1058.8 463.6,1059.7 463.0,1060.6 463.7,1061.5 465.4,1062.5 466.8,1063.4 469.2,1064.3 470.6,1064.9 471.9,1065.4 471.4,1066.0 474.5,1066.5 475.7,1067.1 477.0,1067.6 479.1,1068.2 478.4,1068.7 480.0,1069.3 482.1,1070.6 483.2,1071.8 483.3,1073.1 483.1,1074.3 484.5,1075.6 485.6,1076.8 484.8,1078.1 486.0,1079.3 486.5,1080.6 487.0,1081.8 488.6,1083.1 488.7,1084.3 489.6,1085.6 490.2,1086.8 492.2,1088.1 491.4,1089.3 493.8,1090.6 492.6,1092.2 492.2,1093.7 494.3,1095.3 492.7,1096.8 494.3,1098.4 494.1,1100.0 494.2,1101.5 492.5,1103.1 494.6,1103.9 495.2,1104.6 498.5,1105.4 499.8,1106.1 500.7,1106.9 500.3,1108.4 500.0,1109.8 501.1,1111.3 500.3,1112.8 500.7,1114.3 499.6,1115.7 499.8,1117.2 499.4,1118.7 500.9,1120.2 500.5,1121.6 499.6,1123.1 499.8,1124.2 498.7,1125.6 499.4,1127.0 499.2,1128.4 499.8,1129.8 501.5,1131.1 500.7,1132.5 500.6,1133.9 501.7,1135.3 501.7,1136.7 502.9,1138.2 501.0,1139.7 502.8,1141.2 500.6,1142.7 502.4,1144.2 501.8,1145.7 500.6,1147.2 501.1,1148.7 500.5,1150.2 500.3,1151.7 500.5,1153.1 501.1,1154.5 502.9,1155.9 503.2,1157.3 503.3,1158.7 501.6,1160.1 502.4,1161.5 504.0,1162.9 502.4,1164.3 504.0,1165.8 503.0,1167.3 504.7,1168.8 502.5,1170.3 504.4,1171.8 503.3,1173.3 502.9,1174.8 502.7,1176.3 504.6,1177.8 504.0,1179.3 503.0,1180.7 503.4,1182.1 504.2,1183.5 502.5,1184.9 503.1,1186.2 501.9,1187.6 501.8,1189.0 502.9,1190.4 502.6,1191.8 501.0,1193.2 500.4,1194.7 500.1,1196.1 500.9,1197.5 500.3,1198.9 499.4,1200.4 498.9,1201.8 500.5,1203.1 501.3,1204.3 502.2,1205.6 502.3,1206.9 502.1,1208.1 502.4,1209.4 504.8,1210.6 505.0,1211.9 506.6,1213.1 506.0,1214.4 508.6,1215.6 506.6,1216.8 506.8,1218.1 505.8,1219.3 504.0,1220.6 502.0,1221.8 503.0,1223.1 502.6,1224.5 504.1,1225.9 503.2,1227.3 503.6,1228.7 505.6,1230.1 505.1,1231.5 505.2,1232.9 506.2,1234.3 507.3,1235.7 505.3,1237.2 505.9,1238.8 505.1,1240.4 504.6,1241.9 503.9,1243.3 505.5,1244.7 505.9,1246.1 506.2,1247.5 505.2,1248.9 506.3,1250.3 505.7,1251.7 506.8,1253.1 505.4,1254.5 507.3,1256.0 507.4,1257.5 506.4,1259.0 506.4,1260.5 506.4,1262.0" fill="none" stroke="#ff0000" stroke-width="3.7" stroke-linejoin="miter" stroke-linecap="butt" stroke-miterlimit="2"/>
</g>
<g clip-path="url(#cpb)">
<polyline points="825.5,160.0 823.9,161.3 821.5,162.5 821.2,163.8 821.9,164.5 823.6,165.2 825.3,165.9 827.3,166.7 829.9,167.4 830.6,168.1 832.4,168.8 832.5,170.6 831.1,172.3 830.1,174.1 830.2,175.8 829.4,177.6 830.3,179.3 831.5,180.9 831.6,182.6 833.6,184.3 834.4,185.9 834.4,187.6 832.7,188.6 831.4,189.6 829.6,190.6 827.5,191.6 825.5,192.6 826.8,194.4 827.3,196.1 828.8,197.9 830.1,199.6 830.0,201.4 829.9,203.1 829.4,204.9 827.8,206.6 828.0,208.4 827.4,210.1 827.8,211.6 829.0,213.1 830.7,214.6 831.4,216.1 832.4,217.6 832.1,219.1 830.9,220.6 829.3,222.2 828.1,223.7 827.3,225.2 828.5,226.6 830.4,228.1 831.3,229.6 832.6,231.0 833.6,232.4 834.8,233.9 835.3,234.9 837.6,235.8 839.8,236.8 841.4,237.8 842.0,238.8 843.9,239.7 845.8,240.7 843.9,242.0 842.6,243.3 840.4,244.6 839.4,245.9 838.0,247.2 838.7,248.6 840.1,249.9 842.6,251.3 843.7,252.7 845.2,254.1 846.1,255.4 847.7,256.8 849.1,258.2 848.5,260.1 846.7,262.1 847.0,264.0 848.3,264.5 850.6,265.1 851.8,265.6 854.0,266.1 856.3,266.6 857.7,267.2 859.0,267.7 857.7,269.4 855.9,271.0 854.9,272.7 855.3,274.2 856.5,275.7 858.3,277.3 858.8,278.8 860.7,280.3 860.9,282.1 859.9,283.9 859.2,285.7 859.1,287.4 858.9,289.2 858.0,291.0 857.6,292.8 855.9,293.6 854.5,294.5 853.0,295.3 852.8,297.2 852.7,299.1 852.5,301.0 853.2,302.8 853.6,304.7 853.3,306.6 851.4,307.8 849.8,309.1 847.4,310.3 846.4,311.6 844.2,312.8 844.0,314.6 843.7,316.4 843.2,318.2 842.6,320.0 842.2,321.8 841.8,323.6 841.8,325.4 840.5,327.0 839.6,328.6 837.7,330.2 837.0,331.8 836.6,333.4 834.6,334.9 833.9,336.5 832.7,338.1 831.3,339.7 831.1,341.3 829.0,342.9 830.3,344.8 830.1,346.6 830.6,348.5 832.3,350.4 830.2,351.8 828.2,353.2 827.1,354.6 825.7,356.0 824.6,357.4 825.0,358.9 826.4,360.5 828.7,362.0 829.6,363.6 830.1,365.1 831.6,366.7 832.5,368.2 833.9,369.8 834.7,371.3 836.0,372.9 835.7,374.8 835.1,376.7 835.2,378.5 835.0,380.4 834.9,382.3 834.3,384.2 833.6,385.9 832.5,387.5 831.7,389.2 829.6,390.9 829.6,392.5 827.3,394.2 830.0,395.9 831.5,397.5 833.0,399.2 833.5,401.3 832.8,403.4 832.4,405.5 832.0,407.3 831.2,409.0 830.0,410.8 828.7,412.5 827.9,414.3 829.7,415.3 831.8,416.3 833.0,417.3 834.9,418.3 836.9,419.3 836.1,421.3 835.6,423.3 835.7,425.3 835.3,427.3 834.3,429.3 835.7,430.6 836.9,431.8 838.5,433.1 839.8,434.3 841.9,435.6 841.2,437.3 839.8,438.9 840.2,440.6 838.7,442.3 838.7,443.9 838.0,445.6 839.7,446.9 840.2,448.1 842.0,449.4 844.3,450.6 844.6,451.9 846.2,453.1 847.2,455.0 847.4,456.9 848.4,458.7 848.5,460.6 849.9,461.5 852.4,462.4 853.5,463.3 855.3,464.2 857.3,465.1 858.7,466.0 860.4,466.9 862.6,467.5 864.2,468.1 866.9,468.8 868.4,469.4 870.1,470.0 871.3,470.6 871.0,472.6 870.2,474.6 869.7,476.7 869.0,478.7 868.6,480.7 868.8,481.3 869.7,482.0 871.3,482.7 873.3,483.4 875.5,484.1 876.2,484.7 878.1,485.4 880.2,486.1 881.0,486.8 882.8,487.5 885.7,488.0 887.5,488.6 889.0,489.1 890.4,489.7 893.5,490.2 895.2,490.8 897.3,491.3 897.2,493.4 896.6,495.4 895.6,497.5 896.9,498.3 898.7,499.2 900.7,500.0 902.4,500.8 903.6,501.7 905.3,502.5 907.8,503.0 909.6,503.4 911.1,503.9 913.9,504.3 915.3,504.8 916.3,505.3 918.7,505.7 921.1,506.2 922.3,506.6 924.8,507.1 925.0,508.5 926.7,509.9 928.7,511.3 930.2,512.6 932.1,513.8 933.3,515.1 932.7,516.8 931.8,518.4 930.4,520.1 932.2,521.8 933.3,523.4 935.2,525.1 933.7,527.0 932.6,528.8 933.5,530.1 934.9,531.3 937.1,532.6 937.6,533.8 938.9,535.1 937.2,535.6 935.8,536.1 934.3,536.6 932.1,537.1 930.5,537.6 927.6,538.1 925.7,538.6 924.8,539.1 922.3,539.6 921.0,540.1 918.7,540.5 916.6,540.9 914.9,541.4 912.9,541.8 912.2,542.2 909.9,542.6 907.8,543.1 906.1,543.5 904.2,543.9 903.8,546.0 904.9,548.1 902.7,548.4 901.4,548.7 898.9,548.9 897.3,549.2 895.0,549.5 892.9,549.8 892.4,550.0 890.5,550.3 887.9,550.6 886.9,550.9 885.0,551.2 882.5,551.4 881.1,551.7 879.8,552.0 877.3,552.3 876.1,552.5 873.3,552.8 871.7,553.1 871.6,555.2 870.2,557.2 868.5,557.5 867.5,557.8 865.1,558.0 863.8,558.3 861.2,558.6 859.3,558.9 857.7,559.1 855.7,559.4 855.0,559.7 852.2,560.0 850.8,560.3 848.3,560.5 847.1,560.8 845.1,561.1 843.3,561.4 841.0,561.6 839.3,561.9 838.5,562.2 836.0,562.6 834.0,563.0 832.1,563.4 830.4,563.7 828.5,564.1 826.4,564.5 825.5,564.9 823.2,565.3 821.2,565.7 820.1,566.1 817.4,566.5 815.9,566.8 814.8,567.2 812.0,567.6 810.6,568.0 809.4,568.4 807.5,568.8 804.8,569.2 803.2,569.5 801.9,569.9 799.6,570.3 798.6,570.7 795.7,571.2 794.9,571.7 792.4,572.1 790.1,572.6 788.5,573.1 786.2,573.5 785.1,574.0 782.6,574.5 781.6,575.0 779.3,575.5 777.1,575.9 775.0,576.4 773.8,576.7 771.4,577.1 770.6,577.4 767.8,577.7 766.5,578.1 764.8,578.4 762.6,578.7 761.5,579.1 759.2,579.4 757.8,579.7 755.9,580.0 753.8,580.4 752.1,580.7 749.9,581.0 748.3,581.4 747.4,581.7 744.9,582.0 743.6,582.4 741.1,582.7 741.0,585.2 740.1,587.7 738.4,588.1 736.3,588.5 734.1,589.0 732.5,589.4 730.5,589.8 728.5,590.2 727.5,590.6 725.0,591.0 723.3,591.5 722.1,591.9 720.1,592.3 718.3,592.7 718.3,595.2 717.3,597.7 715.7,598.8 713.6,599.9 712.8,601.0 711.0,602.1 708.8,603.2 709.5,605.5 710.5,607.8 708.8,608.5 706.4,609.3 705.5,610.0 703.1,610.8 701.7,611.5 699.4,612.3 699.8,615.3 702.7,615.7 704.2,616.1 706.0,616.5 706.9,617.0 708.7,617.4 710.6,617.8 712.5,618.2 714.4,618.6 716.3,619.0 717.7,619.4 719.8,619.8 722.1,620.3 723.3,620.7 726.0,621.1 727.4,621.5 725.8,621.9 723.4,622.3 721.8,622.8 720.4,623.2 718.1,623.6 715.8,624.0 717.0,625.9 716.9,627.8 718.0,628.0 719.5,628.1 722.4,628.3 723.9,628.4 724.9,628.6 727.0,628.7 728.6,628.9 731.4,629.0 732.4,629.2 735.1,629.4 736.7,629.5 737.6,629.7 740.3,629.8 741.6,630.0 743.9,630.1 745.9,630.3 746.8,631.3 748.2,632.4 751.0,633.5 752.0,634.5 754.3,635.5 755.7,636.6 757.6,636.9 759.5,637.3 761.0,637.6 762.6,637.9 763.9,638.3 766.6,638.6 768.0,639.0 770.0,639.3 772.4,639.6 773.1,640.0 775.8,640.3 776.4,641.1 779.0,641.9 780.8,642.6 781.7,643.4 783.8,644.2 786.1,645.0 787.3,645.7 788.8,646.5 790.0,647.3 791.6,647.6 793.9,647.9 795.8,648.3 797.4,648.6 799.4,648.9 801.0,649.2 803.6,649.6 805.4,649.9 806.7,650.2 808.5,650.5 810.7,650.9 812.5,651.2 815.0,651.5 816.1,651.8 817.8,652.2 820.5,652.5 821.3,652.8 823.1,655.4 824.5,655.8 827.0,656.1 828.4,656.5 830.5,656.9 831.4,657.3 833.9,657.6 835.6,658.0 837.1,658.4 839.3,658.8 841.2,659.1 842.0,659.5 844.0,659.9 842.3,661.0 840.4,662.1 838.4,663.2 837.0,664.3 835.1,665.4 837.6,665.6 839.1,665.9 840.4,666.1 842.6,666.3 844.6,666.5 846.3,666.8 847.8,667.0 849.5,667.2 851.2,667.4 854.4,667.7 855.9,667.9 856.8,668.1 859.5,668.4 861.7,668.6 863.0,668.8 864.1,669.0 866.5,669.3 868.2,669.5 869.7,669.7 872.0,669.9 873.1,670.2 876.2,670.4 877.7,670.6 879.5,670.9 881.7,671.1 883.1,671.3 884.4,671.5 886.2,671.8 887.9,672.0 889.6,672.2 892.4,672.4 894.4,672.7 895.4,672.9 893.6,673.6 892.5,674.2 891.2,674.9 889.6,675.6 886.9,676.2 886.1,676.9 884.4,677.6 882.7,678.2 880.4,678.9 878.5,679.6 877.7,680.2 875.4,680.9 873.8,681.6 872.3,682.2 870.4,682.9 872.8,683.3 873.8,683.6 875.3,684.0 877.8,684.3 879.7,684.7 881.8,685.0 883.4,685.4 885.1,686.6 886.7,687.9 887.5,689.1 889.0,690.4 890.0,691.6 891.6,692.9 892.6,694.8 892.5,696.7 895.1,697.3 896.1,697.9 898.2,698.5 900.7,699.1 901.2,699.7 902.8,700.3 905.1,700.9 903.3,702.0 902.5,703.1 900.0,704.2 899.5,705.0 897.7,705.8 895.9,706.6 893.7,707.4 891.8,708.1 890.6,708.9 888.6,709.7 886.8,710.5 884.9,711.1 883.4,711.8 882.0,712.4 880.5,713.0 878.8,713.6 876.1,714.2 874.5,714.9 873.0,715.5 871.5,716.2 869.6,716.9 867.7,717.6 865.9,718.3 864.5,718.9 863.0,719.6 862.1,720.3 860.3,721.0 858.6,721.7 857.5,723.4 856.2,725.0 854.0,725.5 852.6,726.0 849.8,726.6 848.9,727.1 847.1,727.6 845.0,728.2 843.6,728.7 842.4,729.2 843.4,730.5 845.3,731.7 846.5,733.0 844.8,733.6 843.7,734.1 840.7,734.7 839.1,735.3 838.0,735.9 835.8,736.4 833.5,737.0 832.5,737.6 830.3,738.2 828.7,738.7 826.7,739.3 828.7,741.1 830.6,743.0 828.5,743.2 826.3,743.5 824.6,743.8 823.7,744.0 821.4,744.2 819.0,744.5 818.2,744.8 815.5,745.0 813.4,745.2 812.2,745.5 810.0,745.8 808.5,746.0 806.8,746.2 804.5,746.5 803.1,746.8 800.6,747.0 799.4,747.2 797.6,747.5 795.1,747.8 793.7,748.0 791.4,748.2 790.1,748.5 788.9,748.8 786.6,749.0 785.0,749.2 783.2,749.5 780.5,749.8 779.9,750.0 781.2,750.5 782.1,751.1 784.8,751.6 785.9,752.1 787.3,752.7 790.2,753.2 791.3,753.8 793.3,754.3 794.2,754.8 796.8,755.4 797.5,755.9 799.5,756.5 801.4,757.0 802.6,757.5 805.1,758.1 806.3,758.6 804.7,759.2 803.5,759.7 801.3,760.3 800.2,760.9 798.1,761.5 796.7,762.0 794.5,762.6 793.3,763.2 791.5,763.7 788.7,764.3 791.4,764.8 792.6,765.3 795.1,765.9 796.8,766.4 798.8,766.9 799.7,767.4 801.8,768.0 804.2,768.5 806.3,769.0 807.8,769.5 808.7,770.1 811.3,770.6 812.4,771.1 811.3,771.6 809.9,772.1 807.2,772.6 806.6,773.1 804.6,773.6 802.2,774.1 800.4,774.6 799.0,775.1 797.8,775.6 795.7,776.1 793.3,776.6 791.5,777.1 789.9,777.6 792.7,778.0 793.6,778.4 796.0,778.9 797.4,779.3 799.8,779.7 801.2,780.1 802.7,780.6 805.6,781.0 806.9,781.4 809.0,781.8 811.0,782.3 813.0,782.7 813.5,783.1 815.6,784.4 816.9,785.6 818.9,786.9 821.0,788.1 822.7,788.3 823.4,788.6 825.4,788.8 828.1,789.0 829.7,789.2 831.1,789.5 833.0,789.7 834.3,789.9 837.1,790.1 838.2,790.4 840.7,790.6 842.1,790.8 843.2,791.0 845.3,791.2 846.9,791.5 849.7,791.7 851.0,791.9 852.1,792.1 854.0,792.4 856.1,792.6 858.0,792.8 860.0,793.0 861.5,793.3 863.2,793.5 864.5,793.7 867.1,793.9 868.6,794.2 869.9,794.4 872.4,794.9 875.0,795.4 875.6,795.9 877.6,796.4 880.2,796.9 881.6,797.4 883.4,797.9 885.6,798.4 887.2,798.9 889.5,799.4 889.4,800.0 891.7,801.3 893.4,802.5 893.7,803.8 895.6,805.4 897.1,807.1 898.4,808.7 899.4,810.4 900.4,812.0 898.7,813.2 896.7,814.3 894.9,815.5 895.8,817.8 896.1,820.2 896.3,822.5 897.6,823.8 898.8,825.0 901.1,826.3 899.6,827.6 897.8,828.8 896.6,830.1 894.7,831.3 893.6,832.6 891.9,833.8 890.0,835.1 889.8,837.0 889.2,838.8 888.3,839.0 885.7,839.3 883.7,839.5 881.7,839.7 879.9,839.9 878.2,840.2 876.1,840.4 874.1,840.6 873.5,840.8 871.1,841.1 869.2,841.3 867.7,841.8 865.5,842.2 863.6,842.7 861.7,843.1 860.3,843.6 858.6,844.0 857.4,844.5 855.4,844.9 854.2,845.4 851.6,845.8 850.7,846.3 851.9,847.8 852.9,849.2 854.7,850.6 856.9,852.1 855.6,852.8 852.9,853.4 851.6,854.1 849.2,854.8 848.0,855.4 845.0,856.1 843.7,856.8 842.4,857.4 839.7,858.1 840.3,860.0 840.5,862.0 841.3,863.9 839.6,864.3 838.4,864.6 835.9,865.0 834.3,865.4 832.2,865.7 830.9,866.1 829.4,866.5 827.3,866.8 824.8,867.2 823.7,867.5 822.2,867.9 819.8,868.3 817.3,868.6 816.5,869.0 814.7,869.4 812.1,869.7 810.0,870.1 808.3,870.8 807.0,871.6 805.7,872.3 803.6,873.0 802.2,873.7 799.4,874.5 797.8,875.2 797.1,876.8 795.7,878.3 794.0,879.9 793.2,881.4 791.0,882.6 788.9,883.9 787.8,885.1 785.6,886.4 784.7,887.6 782.7,888.9 784.1,890.5 785.5,892.0 786.3,893.6 787.8,895.2 788.2,897.1 790.4,899.0 790.8,900.8 792.4,902.7 792.3,904.4 794.4,906.0 795.8,907.7 795.1,909.8 794.5,911.9 794.4,914.0 796.2,914.4 798.9,914.8 799.7,915.2 802.5,915.6 803.7,916.1 805.7,916.5 807.5,916.9 809.3,917.3 811.2,917.7 809.5,918.5 807.4,919.3 806.3,920.1 803.9,920.8 802.9,921.6 801.3,922.4 799.6,923.2 799.3,925.0 800.2,926.8 800.8,928.5 800.4,930.3 799.1,932.0 798.3,933.8 797.7,935.5 795.5,937.3 796.0,939.5 797.3,941.8 798.2,944.0 799.3,945.6 799.7,947.1 801.5,948.7 801.3,950.3 800.1,951.1 797.1,951.8 795.0,952.6 793.2,953.3 791.1,954.1 793.4,954.8 795.1,955.5 796.3,956.2 799.0,956.9 799.8,957.5 801.2,958.2 802.9,958.9 805.4,959.6 807.3,960.3 807.5,963.3 809.1,963.5 812.0,963.8 813.0,964.0 815.8,964.2 816.9,964.5 818.9,964.7 820.3,965.0 822.7,965.2 824.0,965.4 825.6,965.7 828.2,965.9 828.9,966.1 831.5,966.4 832.4,966.6 834.5,969.8 836.0,970.4 838.6,971.0 839.3,971.7 841.9,972.3 843.5,972.9 846.1,973.5 848.0,974.2 849.5,974.8 850.6,975.8 852.3,976.8 853.9,977.9 855.8,978.9 857.2,979.9 857.2,982.4 858.0,984.9 859.7,985.2 861.1,985.5 863.9,985.8 864.7,986.1 867.0,986.3 868.3,986.6 871.2,986.9 873.1,987.2 874.1,987.5 876.6,987.8 878.6,988.1 879.7,988.4 881.7,988.7 883.7,989.0 886.2,989.2 887.0,989.5 889.6,989.8 891.4,990.1 893.0,990.4 894.9,991.2 897.0,992.1 897.7,992.9 900.3,993.7 901.3,994.6 903.6,995.4 905.4,996.2 906.1,997.1 908.7,997.9 910.7,998.3 911.5,998.6 912.9,999.0 914.8,999.4 917.7,999.8 918.2,1000.1 921.2,1000.5 921.9,1000.9 924.5,1001.3 925.4,1001.6 927.3,1002.0 929.8,1002.4 930.1,1005.4 932.3,1006.0 934.9,1006.6 936.4,1007.2 938.5,1007.7 940.4,1008.3 940.9,1008.9 943.0,1009.5 945.6,1010.1 947.2,1010.7 948.1,1011.3 950.6,1011.9 952.0,1012.4 954.1,1013.0 955.4,1013.6 957.1,1014.2 957.2,1015.8 955.0,1017.3 954.6,1018.9 952.3,1020.4 954.1,1021.9 955.0,1023.4 956.7,1025.0 957.7,1026.5 959.8,1028.0 960.9,1028.5 963.6,1028.9 965.1,1029.3 966.5,1029.8 968.7,1030.2 970.8,1030.7 973.2,1031.2 974.3,1031.6 976.0,1032.0 979.0,1032.5 977.9,1034.4 976.8,1036.2 975.2,1038.1 974.1,1040.0 972.4,1040.5 970.3,1040.9 968.4,1041.4 967.1,1041.9 965.1,1042.3 963.5,1042.8 961.3,1043.3 959.0,1043.7 958.1,1044.2 957.0,1046.1 955.9,1048.0 954.1,1048.9 952.5,1049.8 951.2,1050.6 949.3,1051.5 947.3,1052.4 945.1,1053.3 943.2,1054.2 941.6,1055.0 940.6,1055.9 938.0,1056.8 937.4,1058.9 936.9,1061.0 934.6,1061.3 933.9,1061.6 930.7,1061.8 929.6,1062.1 928.2,1062.4 925.4,1062.7 924.0,1062.9 921.8,1063.2 919.7,1063.5 917.8,1063.8 915.8,1064.1 914.9,1064.3 913.0,1064.6 911.3,1064.9 908.2,1065.2 907.2,1065.4 904.8,1065.7 903.4,1066.0 901.7,1067.0 899.7,1068.0 899.1,1068.9 896.1,1069.9 895.5,1070.9 894.1,1071.9 892.0,1072.9 890.5,1073.9 889.5,1074.8 886.8,1075.8 885.8,1076.8 884.2,1077.4 882.0,1078.0 880.7,1078.7 878.6,1079.3 877.0,1079.9 875.4,1080.5 873.8,1081.2 871.6,1081.8 870.3,1082.4 868.5,1083.0 866.3,1083.7 865.1,1084.3 862.9,1084.9 862.1,1085.5 859.8,1086.2 858.4,1086.8 857.1,1088.5 856.1,1090.1 854.7,1091.8 856.1,1093.0 858.7,1094.3 859.6,1095.5 861.1,1096.8 859.6,1098.1 858.5,1099.3 856.2,1100.6 854.6,1101.8 854.1,1103.1 852.0,1104.3 850.8,1105.6 849.2,1106.3 847.4,1107.0 845.5,1107.7 842.5,1108.5 841.1,1109.2 839.8,1109.9 837.9,1110.6 836.2,1112.2 835.4,1113.8 834.7,1115.4 833.7,1117.1 833.2,1118.7 833.0,1120.3 831.8,1121.9 831.7,1121.7 830.1,1123.2 829.3,1124.7 829.0,1126.2 827.4,1127.7 825.9,1129.2 825.6,1131.2 825.7,1133.2 825.3,1135.2 824.1,1137.2 824.6,1139.2 824.7,1141.1 825.5,1143.0 823.4,1143.9 821.8,1144.8 820.0,1145.8 818.3,1146.7 817.6,1148.7 817.7,1150.7 818.0,1152.8 817.1,1154.8 817.0,1156.8 817.3,1158.5 816.2,1160.3 815.8,1162.0 815.1,1163.8 815.5,1165.5 815.5,1167.0 817.4,1168.5 818.8,1170.0 819.0,1171.5 820.4,1173.0 821.2,1174.9 821.3,1176.8 821.3,1178.7 821.2,1180.6 823.0,1182.3 824.1,1184.1 825.8,1185.8 826.5,1187.6 827.9,1189.3 827.8,1191.4 827.6,1193.5 826.6,1195.6 825.1,1196.8 823.8,1198.1 822.7,1199.3 820.1,1200.6 821.9,1202.4 822.3,1204.1 822.6,1205.9 823.8,1207.6 824.1,1209.4 823.4,1211.4 824.1,1213.4 823.4,1215.4 823.3,1217.4 823.0,1219.4 824.2,1221.4 824.6,1223.4 824.1,1225.4 825.5,1227.4 825.9,1229.4 824.9,1231.1 824.5,1232.7 822.9,1234.4 821.1,1235.1 819.7,1235.7 818.5,1237.6 817.9,1239.5 817.3,1241.3 817.2,1243.2 815.5,1244.9 814.2,1246.5 812.4,1248.2 813.2,1249.5 815.4,1250.7 816.6,1252.0 818.2,1253.2 819.6,1254.5 820.0,1256.0 821.5,1257.5 822.7,1259.0 825.1,1260.5 826.0,1262.0" fill="none" stroke="#000" stroke-width="4.3" stroke-linejoin="round" stroke-linecap="butt" />
<polyline points="642.6,160.5 647.7,187.6 652.7,212.6 656.4,232.7 663.9,260.2 672.7,282.8 681.5,307.8 689.0,332.9 695.3,362.9 699.0,383.0 704.0,410.5 709.0,438.1 715.3,460.6 722.8,480.7 722.3,480.0 730.3,493.8 742.8,511.3 757.9,530.1 769.1,546.4 774.9,560.2 775.4,572.7 771.7,585.2 765.4,600.2 755.4,617.8 749.1,632.8 746.6,645.3 748.4,662.9 755.4,680.4 766.6,700.4 776.7,718.0 782.9,735.5 785.4,750.5 784.9,768.1 785.9,788.1 790.4,799.4 790.9,800.0 805.5,822.5 815.5,840.1 821.8,860.1 824.3,877.7 823.0,900.2 823.0,920.2 823.8,940.3 823.8,960.3 826.8,975.4 833.0,990.4 845.6,1007.9 863.1,1025.5 881.9,1043.0 898.2,1060.5 908.2,1078.1 916.9,1100.6 916.9,1101.6 922.0,1124.2 925.7,1146.7 928.7,1171.8 932.0,1199.3 935.7,1224.4 938.2,1244.4 940.7,1262.0" fill="none" stroke="#ff0000" stroke-width="4.0" stroke-linejoin="round" stroke-linecap="butt" />
</g>
<g clip-path="url(#cpc)">
<polyline points="1298.7,160.5 1300.9,181.3 1276.6,212.6 1200.2,246.4 1204.0,257.7 1207.0,277.3 1235.3,308.3 1204.0,340.9 1193.2,371.7 1228.3,405.0 1271.1,467.6 1245.8,499.6 1323.5,532.2 1325.5,564.0 1353.0,596.6 1468.3,628.4 1443.2,660.4 1432.7,693.0 1430.7,725.6 1425.2,757.6 1442.5,790.1 1442.0,822.7 1416.9,854.7 1365.6,888.3 1243.3,920.9 1214.0,986.2 1241.1,1018.8 1201.5,1051.4 1262.9,1082.9 1222.3,1115.4 1217.8,1148.0 1182.2,1181.1 1178.2,1214.4 1201.5,1262.0" fill="none" stroke="#0072bd" stroke-width="4.0" stroke-linejoin="round" stroke-linecap="butt" />
<polyline points="1316.7,160.5 1316.7,181.3 1277.9,213.1 1197.7,245.2 1216.5,277.3 1269.6,308.6 1220.8,340.9 1195.7,371.7 1250.3,404.3 1257.4,435.6 1285.4,467.6 1229.5,500.1 1281.9,532.2 1307.2,564.0 1434.5,596.1 1443.2,628.4 1445.7,660.4 1432.7,692.5 1447.5,724.8 1433.2,756.9 1467.8,789.6 1438.2,822.2 1421.9,854.7 1390.6,888.3 1266.6,921.6 1235.3,953.4 1206.5,986.2 1236.6,1018.1 1200.2,1051.4 1284.2,1082.9 1225.3,1115.4 1220.8,1148.7 1195.2,1181.1 1188.5,1214.4 1205.3,1248.2 1216.5,1262.0" fill="none" stroke="#d95319" stroke-width="4.0" stroke-linejoin="round" stroke-linecap="butt" />
</g>
<g clip-path="url(#cpd)">
<polyline points="1759.1,500.3 1763.5,505.8 1771.2,513.5 1764.6,521.1 1770.1,527.7 1773.3,534.2 1781.0,538.6 1742.7,547.4 1736.1,553.9 1739.4,559.4 1663.9,568.2 1736.1,582.4 1728.5,588.9 1713.2,595.5 1717.5,601.0 1697.9,609.3 1721.9,615.2 1708.8,621.8 1709.9,627.2 1643.2,636.0 1634.4,642.6 1686.9,652.4 1607.0,664.0 1678.2,677.6 1726.3,684.1 1736.8,697.3 1719.7,704.9 1724.1,718.1 1708.8,724.6 1715.4,731.1 1681.4,738.8 1711.0,745.3 1666.1,751.9 1711.0,759.5 1653.0,765.0 1655.2,771.6 1647.5,779.2 1656.3,793.5 1639.9,806.6 1689.1,813.2 1700.0,818.6 1673.8,826.3 1689.1,833.9 1703.3,840.5 1697.9,848.2 1702.2,854.7 1689.1,861.3 1685.8,867.9 1732.9,881.0 1727.4,894.1 1724.1,901.8 1708.8,908.3 1689.1,922.1 1704.4,929.1 1712.1,937.9 1714.3,943.3 1719.7,949.5 1713.2,956.5 1711.0,963.0 1717.5,969.6 1716.5,977.3 1704.4,984.3" fill="none" stroke="#b9d2f1" stroke-width="3.6" stroke-linejoin="round" stroke-linecap="butt" />
<polyline points="1601.6,488.3 1788.7,500.3 1793.0,506.9 1801.8,513.5 1794.1,521.1 1800.7,527.7 1799.6,534.2 1814.9,537.5 1778.8,546.3 1764.6,549.6 1760.2,553.9 1764.6,559.4 1674.9,568.2 1761.3,582.4 1752.6,588.9 1734.0,595.5 1738.3,601.0 1715.4,609.7 1750.4,615.2 1727.4,621.8 1728.5,626.1 1649.7,636.0 1639.9,642.6 1706.6,651.3 1607.0,664.0 1693.5,677.6 1748.2,684.1 1760.9,697.3 1740.5,704.9 1746.0,718.1 1727.4,724.6 1736.1,731.1 1695.7,738.8 1730.7,745.3 1678.2,751.9 1728.5,759.5 1662.8,765.0 1663.9,771.6 1654.1,779.2 1667.2,793.5 1647.5,806.6 1702.2,813.2 1715.4,818.6 1686.9,826.3 1702.2,833.9 1720.8,840.5 1714.3,848.2 1719.7,854.7 1704.4,861.3 1700.0,867.9 1755.8,881.0 1746.0,894.1 1744.9,901.8 1726.3,908.3 1705.5,922.1 1721.9,929.1 1730.7,937.9 1732.9,943.3 1740.5,949.5 1732.9,956.5 1730.7,963.0 1738.3,969.6 1737.2,977.3 1721.9,984.3 1741.6,990.4 1602.7,1004.6" fill="none" stroke="#0072bd" stroke-width="3.8" stroke-linejoin="round" stroke-linecap="butt" />
<polyline points="1602.7,486.3 1824.8,494.2 1820.4,500.3 1831.3,506.5 1811.6,514.6 1831.3,527.0 1828.1,534.2 1775.5,546.3 1771.2,553.9 1781.0,560.5 1713.2,568.2 1770.1,575.8 1781.0,582.4 1771.2,588.9 1781.0,595.5 1750.4,602.1 1749.3,607.5 1758.0,615.2 1732.9,626.1 1656.3,636.0 1682.5,644.7 1700.0,651.3 1704.4,654.6 1641.0,663.3 1726.3,672.1 1785.4,690.7 1776.6,699.5 1776.6,704.9 1767.9,712.6 1764.6,724.6 1770.1,731.1 1711.0,738.8 1718.6,745.3 1767.9,751.9 1668.3,766.1 1671.6,770.5 1648.6,779.2 1698.9,787.3 1667.2,800.0 1727.4,813.2 1713.2,826.3 1753.7,841.6 1752.6,848.2 1717.5,861.3 1728.5,867.9 1786.5,874.9 1781.0,883.2 1755.8,895.2 1764.6,900.7 1763.5,905.1 1739.4,916.0 1747.1,929.1 1744.9,935.7 1766.8,943.3 1769.6,949.9 1763.5,961.9 1760.9,970.7 1767.9,977.3 1771.2,982.7 1635.5,988.6 1601.6,997.0" fill="none" stroke="#ff0000" stroke-width="3.8" stroke-linejoin="round" stroke-linecap="butt" />
<polyline points="1602.7,467.5 1603.8,485.0 1855.4,492.7 1852.1,501.4 1864.2,506.9 1841.2,514.6 1864.2,527.0 1859.8,534.2 1795.2,549.6 1797.4,555.0 1807.3,561.6 1728.5,569.3 1791.9,574.7 1807.3,582.4 1795.2,588.9 1806.2,595.5 1770.1,603.2 1773.3,610.8 1781.0,616.3 1750.4,627.2 1662.8,636.0 1691.3,644.7 1713.2,651.3 1719.7,656.8 1647.5,663.3 1743.8,669.9 1811.6,690.7 1800.7,699.5 1801.8,704.9 1789.8,714.8 1786.5,724.6 1794.1,731.1 1726.3,738.8 1735.1,745.3 1793.0,751.9 1678.2,766.1 1681.4,771.6 1651.9,779.2 1713.2,786.5 1673.8,800.0 1744.9,813.2 1728.5,826.3 1775.5,841.6 1774.4,848.2 1735.1,861.3 1746.0,867.9 1813.8,874.4 1807.3,883.2 1776.6,895.2 1787.6,900.7 1785.4,905.1 1759.1,916.0 1767.9,929.1 1765.7,935.7 1790.9,943.3 1793.0,949.9 1786.5,961.9 1783.2,970.7 1791.9,978.4 1795.2,983.8 1636.6,989.3 1601.6,998.1 1601.6,1014.5" fill="none" stroke="#eed4d4" stroke-width="3.6" stroke-linejoin="round" stroke-linecap="butt" />
</g>
<rect x="97.0" y="160.3" width="418.2" height="1102.0" fill="none" stroke="#6a6a6a" stroke-width="1.5" stroke-linejoin="round"/>
<rect x="600.6" y="160.3" width="429.1" height="1102.0" fill="none" stroke="#6a6a6a" stroke-width="1.5" stroke-linejoin="round"/>
<rect x="1112.0" y="160.3" width="412.0" height="1102.0" fill="none" stroke="#6a6a6a" stroke-width="1.5" stroke-linejoin="round"/>
<rect x="1601.2" y="160.3" width="394.4" height="1102.0" fill="none" stroke="#6a6a6a" stroke-width="1.5" stroke-linejoin="round"/>
<path d="M1601.5 197V202.5 M1601.5 210V225.5 M1601.5 269V279 M1601.5 317.5V336 M1601.5 340V355.5 M1601.5 377.5V393 M1601.5 401.5V415 M1601.5 468V488 M1601.5 1033V1042 M1601.5 1082V1089 M1601.5 1103V1111 M1601.5 1121.7V1140 M1601.5 1199V1207 M1601.5 1241V1247.6" stroke="#f3d5d5" stroke-width="3.4" fill="none"/>
<path d="M1601.2 161V172 M1601.2 175V186 M1601.2 188V196 M1601.2 213.5V222 M1601.2 225.5V236.5 M1601.2 253V259.5 M1601.2 264V269 M1601.2 280V290 M1601.2 295.5V307.5 M1601.2 335V338 M1601.2 359V361 M1601.2 365.5V377.5 M1601.2 415V434.5 M1601.2 439V450 M1601.2 461V467.5 M1601.2 1020V1034 M1601.2 1044V1067 M1601.2 1085.6V1096.6 M1601.2 1104V1106.5 M1601.2 1143.6V1151.3 M1601.2 1163.3V1177.5 M1601.2 1187.4V1189.6 M1601.2 1231V1245.4 M1601.2 1248.7V1261.5" stroke="#0072bd" stroke-width="3.9" fill="none"/>
<line x1="201.6" y1="1262.3" x2="201.6" y2="1252.3" stroke="#505050" stroke-width="1.4"/>
<line x1="306.1" y1="1262.3" x2="306.1" y2="1252.3" stroke="#505050" stroke-width="1.4"/>
<line x1="410.7" y1="1262.3" x2="410.7" y2="1252.3" stroke="#505050" stroke-width="1.4"/>
<line x1="102" y1="160.3" x2="505" y2="160.3" stroke="#ff6a6a" stroke-width="2"/>
<line x1="179.0" y1="160.3" x2="179.0" y2="171.3" stroke="#ff5a5a" stroke-width="1.7"/>
<line x1="308.2" y1="160.3" x2="308.2" y2="171.3" stroke="#ff5a5a" stroke-width="1.7"/>
<line x1="437.5" y1="160.3" x2="437.5" y2="171.3" stroke="#ff5a5a" stroke-width="1.7"/>
<line x1="815.2" y1="1262.3" x2="815.2" y2="1252.3" stroke="#505050" stroke-width="1.4"/>
<line x1="600.6" y1="160.3" x2="1020" y2="160.3" stroke="#ff6a6a" stroke-width="2"/>
<line x1="600.6" y1="160.3" x2="600.6" y2="171.3" stroke="#ff7a7a" stroke-width="2"/>
<line x1="815.2" y1="160.3" x2="815.2" y2="171.3" stroke="#ff5a5a" stroke-width="1.7"/>
<line x1="1116.6" y1="1262.3" x2="1116.6" y2="1256.8" stroke="#505050" stroke-width="1.5"/>
<line x1="1116.6" y1="160.3" x2="1116.6" y2="165.8" stroke="#505050" stroke-width="1.5"/>
<line x1="1120.6" y1="1262.3" x2="1120.6" y2="1251.3" stroke="#505050" stroke-width="1.5"/>
<line x1="1120.6" y1="160.3" x2="1120.6" y2="171.3" stroke="#505050" stroke-width="1.5"/>
<line x1="1147.0" y1="1262.3" x2="1147.0" y2="1256.8" stroke="#505050" stroke-width="1.5"/>
<line x1="1147.0" y1="160.3" x2="1147.0" y2="165.8" stroke="#505050" stroke-width="1.5"/>
<line x1="1162.4" y1="1262.3" x2="1162.4" y2="1256.8" stroke="#505050" stroke-width="1.5"/>
<line x1="1162.4" y1="160.3" x2="1162.4" y2="165.8" stroke="#505050" stroke-width="1.5"/>
<line x1="1173.3" y1="1262.3" x2="1173.3" y2="1256.8" stroke="#505050" stroke-width="1.5"/>
<line x1="1173.3" y1="160.3" x2="1173.3" y2="165.8" stroke="#505050" stroke-width="1.5"/>
<line x1="1181.8" y1="1262.3" x2="1181.8" y2="1256.8" stroke="#505050" stroke-width="1.5"/>
<line x1="1181.8" y1="160.3" x2="1181.8" y2="165.8" stroke="#505050" stroke-width="1.5"/>
<line x1="1188.7" y1="1262.3" x2="1188.7" y2="1256.8" stroke="#505050" stroke-width="1.5"/>
<line x1="1188.7" y1="160.3" x2="1188.7" y2="165.8" stroke="#505050" stroke-width="1.5"/>
<line x1="1194.6" y1="1262.3" x2="1194.6" y2="1256.8" stroke="#505050" stroke-width="1.5"/>
<line x1="1194.6" y1="160.3" x2="1194.6" y2="165.8" stroke="#505050" stroke-width="1.5"/>
<line x1="1199.7" y1="1262.3" x2="1199.7" y2="1256.8" stroke="#505050" stroke-width="1.5"/>
<line x1="1199.7" y1="160.3" x2="1199.7" y2="165.8" stroke="#505050" stroke-width="1.5"/>
<line x1="1204.1" y1="1262.3" x2="1204.1" y2="1256.8" stroke="#505050" stroke-width="1.5"/>
<line x1="1204.1" y1="160.3" x2="1204.1" y2="165.8" stroke="#505050" stroke-width="1.5"/>
<line x1="1208.1" y1="1262.3" x2="1208.1" y2="1256.8" stroke="#505050" stroke-width="1.5"/>
<line x1="1208.1" y1="160.3" x2="1208.1" y2="165.8" stroke="#505050" stroke-width="1.5"/>
<line x1="1234.5" y1="1262.3" x2="1234.5" y2="1256.8" stroke="#505050" stroke-width="1.5"/>
<line x1="1234.5" y1="160.3" x2="1234.5" y2="165.8" stroke="#505050" stroke-width="1.5"/>
<line x1="1249.9" y1="1262.3" x2="1249.9" y2="1256.8" stroke="#505050" stroke-width="1.5"/>
<line x1="1249.9" y1="160.3" x2="1249.9" y2="165.8" stroke="#505050" stroke-width="1.5"/>
<line x1="1260.9" y1="1262.3" x2="1260.9" y2="1256.8" stroke="#505050" stroke-width="1.5"/>
<line x1="1260.9" y1="160.3" x2="1260.9" y2="165.8" stroke="#505050" stroke-width="1.5"/>
<line x1="1269.3" y1="1262.3" x2="1269.3" y2="1256.8" stroke="#505050" stroke-width="1.5"/>
<line x1="1269.3" y1="160.3" x2="1269.3" y2="165.8" stroke="#505050" stroke-width="1.5"/>
<line x1="1276.3" y1="1262.3" x2="1276.3" y2="1256.8" stroke="#505050" stroke-width="1.5"/>
<line x1="1276.3" y1="160.3" x2="1276.3" y2="165.8" stroke="#505050" stroke-width="1.5"/>
<line x1="1282.1" y1="1262.3" x2="1282.1" y2="1256.8" stroke="#505050" stroke-width="1.5"/>
<line x1="1282.1" y1="160.3" x2="1282.1" y2="165.8" stroke="#505050" stroke-width="1.5"/>
<line x1="1287.2" y1="1262.3" x2="1287.2" y2="1256.8" stroke="#505050" stroke-width="1.5"/>
<line x1="1287.2" y1="160.3" x2="1287.2" y2="165.8" stroke="#505050" stroke-width="1.5"/>
<line x1="1291.7" y1="1262.3" x2="1291.7" y2="1256.8" stroke="#505050" stroke-width="1.5"/>
<line x1="1291.7" y1="160.3" x2="1291.7" y2="165.8" stroke="#505050" stroke-width="1.5"/>
<line x1="1295.7" y1="1262.3" x2="1295.7" y2="1251.3" stroke="#505050" stroke-width="1.5"/>
<line x1="1295.7" y1="160.3" x2="1295.7" y2="171.3" stroke="#505050" stroke-width="1.5"/>
<line x1="1322.1" y1="1262.3" x2="1322.1" y2="1256.8" stroke="#505050" stroke-width="1.5"/>
<line x1="1322.1" y1="160.3" x2="1322.1" y2="165.8" stroke="#505050" stroke-width="1.5"/>
<line x1="1337.5" y1="1262.3" x2="1337.5" y2="1256.8" stroke="#505050" stroke-width="1.5"/>
<line x1="1337.5" y1="160.3" x2="1337.5" y2="165.8" stroke="#505050" stroke-width="1.5"/>
<line x1="1348.4" y1="1262.3" x2="1348.4" y2="1256.8" stroke="#505050" stroke-width="1.5"/>
<line x1="1348.4" y1="160.3" x2="1348.4" y2="165.8" stroke="#505050" stroke-width="1.5"/>
<line x1="1356.9" y1="1262.3" x2="1356.9" y2="1256.8" stroke="#505050" stroke-width="1.5"/>
<line x1="1356.9" y1="160.3" x2="1356.9" y2="165.8" stroke="#505050" stroke-width="1.5"/>
<line x1="1363.8" y1="1262.3" x2="1363.8" y2="1256.8" stroke="#505050" stroke-width="1.5"/>
<line x1="1363.8" y1="160.3" x2="1363.8" y2="165.8" stroke="#505050" stroke-width="1.5"/>
<line x1="1369.7" y1="1262.3" x2="1369.7" y2="1256.8" stroke="#505050" stroke-width="1.5"/>
<line x1="1369.7" y1="160.3" x2="1369.7" y2="165.8" stroke="#505050" stroke-width="1.5"/>
<line x1="1374.8" y1="1262.3" x2="1374.8" y2="1256.8" stroke="#505050" stroke-width="1.5"/>
<line x1="1374.8" y1="160.3" x2="1374.8" y2="165.8" stroke="#505050" stroke-width="1.5"/>
<line x1="1379.2" y1="1262.3" x2="1379.2" y2="1256.8" stroke="#505050" stroke-width="1.5"/>
<line x1="1379.2" y1="160.3" x2="1379.2" y2="165.8" stroke="#505050" stroke-width="1.5"/>
<line x1="1383.2" y1="1262.3" x2="1383.2" y2="1256.8" stroke="#505050" stroke-width="1.5"/>
<line x1="1383.2" y1="160.3" x2="1383.2" y2="165.8" stroke="#505050" stroke-width="1.5"/>
<line x1="1409.6" y1="1262.3" x2="1409.6" y2="1256.8" stroke="#505050" stroke-width="1.5"/>
<line x1="1409.6" y1="160.3" x2="1409.6" y2="165.8" stroke="#505050" stroke-width="1.5"/>
<line x1="1425.0" y1="1262.3" x2="1425.0" y2="1256.8" stroke="#505050" stroke-width="1.5"/>
<line x1="1425.0" y1="160.3" x2="1425.0" y2="165.8" stroke="#505050" stroke-width="1.5"/>
<line x1="1436.0" y1="1262.3" x2="1436.0" y2="1256.8" stroke="#505050" stroke-width="1.5"/>
<line x1="1436.0" y1="160.3" x2="1436.0" y2="165.8" stroke="#505050" stroke-width="1.5"/>
<line x1="1444.4" y1="1262.3" x2="1444.4" y2="1256.8" stroke="#505050" stroke-width="1.5"/>
<line x1="1444.4" y1="160.3" x2="1444.4" y2="165.8" stroke="#505050" stroke-width="1.5"/>
<line x1="1451.4" y1="1262.3" x2="1451.4" y2="1256.8" stroke="#505050" stroke-width="1.5"/>
<line x1="1451.4" y1="160.3" x2="1451.4" y2="165.8" stroke="#505050" stroke-width="1.5"/>
<line x1="1457.2" y1="1262.3" x2="1457.2" y2="1256.8" stroke="#505050" stroke-width="1.5"/>
<line x1="1457.2" y1="160.3" x2="1457.2" y2="165.8" stroke="#505050" stroke-width="1.5"/>
<line x1="1462.3" y1="1262.3" x2="1462.3" y2="1256.8" stroke="#505050" stroke-width="1.5"/>
<line x1="1462.3" y1="160.3" x2="1462.3" y2="165.8" stroke="#505050" stroke-width="1.5"/>
<line x1="1466.8" y1="1262.3" x2="1466.8" y2="1256.8" stroke="#505050" stroke-width="1.5"/>
<line x1="1466.8" y1="160.3" x2="1466.8" y2="165.8" stroke="#505050" stroke-width="1.5"/>
<line x1="1470.8" y1="1262.3" x2="1470.8" y2="1251.3" stroke="#505050" stroke-width="1.5"/>
<line x1="1470.8" y1="160.3" x2="1470.8" y2="171.3" stroke="#505050" stroke-width="1.5"/>
<line x1="1497.2" y1="1262.3" x2="1497.2" y2="1256.8" stroke="#505050" stroke-width="1.5"/>
<line x1="1497.2" y1="160.3" x2="1497.2" y2="165.8" stroke="#505050" stroke-width="1.5"/>
<line x1="1512.6" y1="1262.3" x2="1512.6" y2="1256.8" stroke="#505050" stroke-width="1.5"/>
<line x1="1512.6" y1="160.3" x2="1512.6" y2="165.8" stroke="#505050" stroke-width="1.5"/>
<line x1="1700.0" y1="1262.3" x2="1700.0" y2="1251.3" stroke="#505050" stroke-width="1.4"/>
<line x1="1700.0" y1="160.3" x2="1700.0" y2="171.3" stroke="#505050" stroke-width="1.4"/>
<line x1="1798.5" y1="1262.3" x2="1798.5" y2="1251.3" stroke="#505050" stroke-width="1.4"/>
<line x1="1798.5" y1="160.3" x2="1798.5" y2="171.3" stroke="#505050" stroke-width="1.4"/>
<line x1="1897.0" y1="1262.3" x2="1897.0" y2="1251.3" stroke="#505050" stroke-width="1.4"/>
<line x1="1897.0" y1="160.3" x2="1897.0" y2="171.3" stroke="#505050" stroke-width="1.4"/>
<rect x="1362.6" y="182.6" width="149.3" height="78.9" fill="#fff" stroke="#6a6a6a" stroke-width="1.6"/>
<line x1="1391" y1="204.1" x2="1448.7" y2="204.1" stroke="#0072bd" stroke-width="4"/>
<line x1="1391" y1="240.2" x2="1448.7" y2="240.2" stroke="#d95319" stroke-width="4"/>
<text x="1456.5" y="214.5" font-size="31.1" fill="#000">s1</text>
<text x="1456.5" y="250.6" font-size="31.1" fill="#000">s2</text>
<rect x="1720.4" y="188.3" width="260.8" height="149.9" fill="#fff" stroke="#6a6a6a" stroke-width="1.6"/>
<line x1="1729" y1="209.1" x2="1788.7" y2="209.1" stroke="#b9d2f1" stroke-width="3.8"/>
<text x="1795" y="219.5" font-size="31.1" fill="#000">Sediment min</text>
<line x1="1729" y1="245.1" x2="1788.7" y2="245.1" stroke="#0072bd" stroke-width="3.8"/>
<text x="1795" y="255.5" font-size="31.1" fill="#000">Sediment max</text>
<line x1="1729" y1="281.1" x2="1788.7" y2="281.1" stroke="#ff0000" stroke-width="3.8"/>
<text x="1795" y="291.5" font-size="31.1" fill="#000">Tracer min</text>
<line x1="1729" y1="317.1" x2="1788.7" y2="317.1" stroke="#eed4d4" stroke-width="3.8"/>
<text x="1795" y="327.5" font-size="31.1" fill="#000">Tracer max</text>
<text x="88.6" y="29.7" font-size="44.0" text-anchor="start" fill="#000" >(a)</text>
<text x="603.0" y="29.7" font-size="44.0" text-anchor="start" fill="#000" >(b)</text>
<text x="1113.0" y="29.7" font-size="44.0" text-anchor="start" fill="#000" >(c)</text>
<text x="1603.0" y="29.7" font-size="44.0" text-anchor="start" fill="#000" >(d)</text>
<text x="84.5" y="171.9" font-size="34.0" text-anchor="end" fill="#000" >60</text>
<text x="84.5" y="392.3" font-size="34.0" text-anchor="end" fill="#000" >65</text>
<text x="84.5" y="612.7" font-size="34.0" text-anchor="end" fill="#000" >70</text>
<text x="84.5" y="833.1" font-size="34.0" text-anchor="end" fill="#000" >75</text>
<text x="84.5" y="1053.5" font-size="34.0" text-anchor="end" fill="#000" >80</text>
<text x="84.5" y="1273.9" font-size="34.0" text-anchor="end" fill="#000" >85</text>
<text transform="translate(27.5,711) rotate(-90)" font-size="38.0" text-anchor="middle" fill="#000">Depth (m)</text>
<text x="97.0" y="1304.0" font-size="34.0" text-anchor="middle" fill="#000" >10.7</text>
<text x="201.6" y="1304.0" font-size="34.0" text-anchor="middle" fill="#000" >10.8</text>
<text x="306.1" y="1304.0" font-size="34.0" text-anchor="middle" fill="#000" >10.9</text>
<text x="410.7" y="1304.0" font-size="34.0" text-anchor="middle" fill="#000" >11</text>
<text x="515.2" y="1304.0" font-size="34.0" text-anchor="middle" fill="#000" >11.1</text>
<text x="306" y="1362" font-size="38.0" text-anchor="middle" fill="#000" >Temperature (ºC)</text>
<text x="179.0" y="141.2" font-size="34.0" text-anchor="middle" fill="#ff0000" >33.6</text>
<text x="308.2" y="141.2" font-size="34.0" text-anchor="middle" fill="#ff0000" >33.65</text>
<text x="437.5" y="141.2" font-size="34.0" text-anchor="middle" fill="#ff0000" >33.7</text>
<text x="308.3" y="99" font-size="38.0" text-anchor="middle" fill="#ff0000" >Salinity (PSU)</text>
<text x="600.6" y="1304.0" font-size="34.0" text-anchor="middle" fill="#000" >-5</text>
<text x="815.2" y="1304.0" font-size="34.0" text-anchor="middle" fill="#000" >0</text>
<text x="1029.7" y="1304.0" font-size="34.0" text-anchor="middle" fill="#000" >5</text>
<text x="600.6" y="141.2" font-size="34.0" text-anchor="middle" fill="#ff0000" >1025.9</text>
<text x="815.2" y="141.2" font-size="34.0" text-anchor="middle" fill="#ff0000" >1026.1</text>
<text x="1029.7" y="141.2" font-size="34.0" text-anchor="middle" fill="#ff0000" >1026.3</text>
<text fill="#ff0000" xml:space="preserve"><tspan x="691.8" y="90.8" font-size="38.0">Density (kg m</tspan><tspan x="908.8" y="72.0" font-size="29.4">-3</tspan><tspan x="933.6" y="90.8" font-size="38.0">)</tspan></text>
<text fill="#000" xml:space="preserve"><tspan x="757.0" y="1363.3" font-size="38.0">N</tspan><tspan x="784.8" y="1344.9" font-size="29.4">2</tspan><tspan x="811.9" y="1363.3" font-size="38.0">(s</tspan><tspan x="839.3" y="1344.9" font-size="29.4">-2</tspan><tspan x="865.2" y="1363.3" font-size="38.0">)</tspan></text>
<text fill="#000" xml:space="preserve"><tspan x="947.1" y="1360.5" font-size="41.5">×</tspan><tspan x="972.1" y="1355.5" font-size="34.0">10</tspan><tspan x="1005.6" y="1339.3" font-size="26.5">-4</tspan></text>
<text fill="#262626" xml:space="preserve"><tspan x="1086.5" y="1314.6" font-size="34.0">10</tspan><tspan x="1120.2" y="1298.2" font-size="26.5">-10</tspan></text>
<text fill="#262626" xml:space="preserve"><tspan x="1267.4" y="1314.6" font-size="34.0">10</tspan><tspan x="1301.0" y="1298.2" font-size="26.5">-8</tspan></text>
<text fill="#262626" xml:space="preserve"><tspan x="1442.0" y="1314.6" font-size="34.0">10</tspan><tspan x="1476.0" y="1298.2" font-size="26.5">-6</tspan></text>
<text fill="#262626" xml:space="preserve"><tspan x="1236.7" y="1363.1" font-size="38.0">ϵ</tspan><tspan x="1262.6" y="1363.1" font-size="38.0">(W kg</tspan><tspan x="1358.4" y="1344.4" font-size="29.4">-1</tspan><tspan x="1382.0" y="1363.1" font-size="38.0">)</tspan></text>
<text x="1699.0" y="1303.8" font-size="34.0" text-anchor="middle" fill="#262626" >1</text>
<text x="1797.0" y="1303.8" font-size="34.0" text-anchor="middle" fill="#262626" >2</text>
<text x="1896.3" y="1303.8" font-size="34.0" text-anchor="middle" fill="#262626" >3</text>
<text x="1801" y="1367.4" font-size="38.0" text-anchor="middle" fill="#262626" >% of initial concentration</text>
</svg>
</body></html>
